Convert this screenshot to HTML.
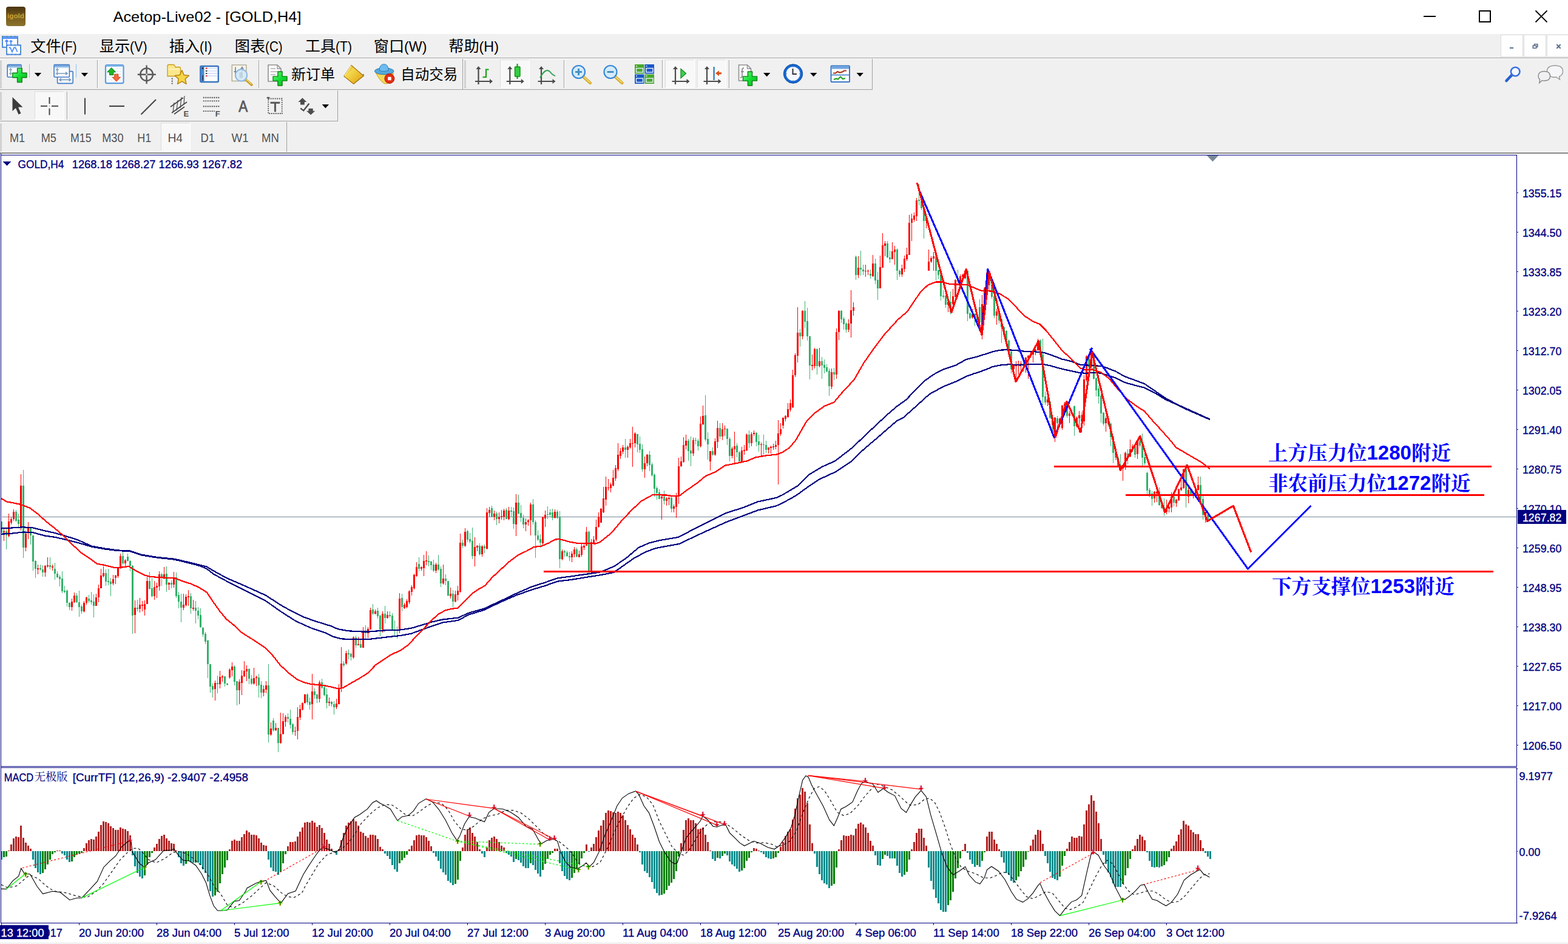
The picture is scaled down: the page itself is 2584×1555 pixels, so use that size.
<!DOCTYPE html><html><head><meta charset="utf-8"><title>Acetop-Live02 - [GOLD,H4]</title><style>html,body{margin:0;padding:0;background:#f0f0f0;overflow:hidden}body{width:2584px;height:1555px;position:relative;font-family:"Liberation Sans",sans-serif}svg{position:absolute;left:0;top:0;display:block}text{white-space:pre}</style></head><body><svg width="2584" height="1555" viewBox="0 0 2584 1555"><rect width="2584" height="1555" fill="#f0f0f0"/><g shape-rendering="crispEdges"><rect x="0" y="253" width="2584" height="1302" fill="#fff"/><rect x="3" y="851" width="2497" height="1" fill="#778899"/><path fill="#2DAE65" d="M1 859h3v19h-3zM9 875h3v7h-3zM25 843h3v15h-3zM29 856h3v7h-3zM37 800h3v102h-3zM49 869h3v13h-3zM53 882h3v43h-3zM57 924h3v13h-3zM65 936h3v2h-3zM69 938h3v5h-3zM81 931h3v3h-3zM89 937h3v8h-3zM93 945h3v6h-3zM97 950h3v4h-3zM101 953h3v21h-3zM105 973h3v2h-3zM109 973h3v20h-3zM113 993h3v7h-3zM125 981h3v11h-3zM129 992h3v8h-3zM133 999h3v8h-3zM145 986h3v4h-3zM149 989h3v3h-3zM153 991h3v7h-3zM173 944h3v14h-3zM177 957h3v2h-3zM181 958h3v4h-3zM201 916h3v12h-3zM209 917h3v7h-3zM213 924h3v8h-3zM217 932h3v82h-3zM225 1001h3v2h-3zM245 957h3v13h-3zM249 969h3v13h-3zM265 946h3v4h-3zM273 945h3v18h-3zM281 960h3v3h-3zM289 951h3v31h-3zM293 980h3v11h-3zM297 991h3v10h-3zM313 982h3v20h-3zM321 1001h3v5h-3zM325 1006h3v8h-3zM329 1013h3v20h-3zM333 1034h3v11h-3zM337 1044h3v13h-3zM341 1055h3v39h-3zM345 1094h3v37h-3zM349 1130h3v6h-3zM357 1125h3v2h-3zM369 1114h3v12h-3zM373 1126h3v2h-3zM385 1098h3v25h-3zM389 1122h3v15h-3zM409 1102h3v16h-3zM413 1118h3v8h-3zM425 1116h3v13h-3zM429 1128h3v13h-3zM441 1129h3v81h-3zM449 1187h3v16h-3zM457 1199h3v25h-3zM473 1181h3v3h-3zM477 1184h3v10h-3zM481 1193h3v13h-3zM505 1144h3v13h-3zM509 1156h3v5h-3zM517 1139h3v6h-3zM521 1144h3v7h-3zM529 1124h3v9h-3zM533 1132h3v13h-3zM537 1144h3v14h-3zM545 1156h3v4h-3zM549 1160h3v5h-3zM565 1093h3v3h-3zM573 1076h3v2h-3zM577 1077h3v5h-3zM585 1050h3v13h-3zM593 1061h3v6h-3zM601 1041h3v2h-3zM613 1004h3v7h-3zM621 1006h3v9h-3zM625 1014h3v23h-3zM633 1011h3v7h-3zM641 1013h3v2h-3zM645 1014h3v23h-3zM649 1037h3v1h-3zM653 1037h3v1h-3zM661 985h3v15h-3zM689 929h3v8h-3zM705 924h3v2h-3zM709 925h3v6h-3zM713 930h3v10h-3zM721 930h3v8h-3zM725 937h3v24h-3zM733 953h3v4h-3zM737 957h3v24h-3zM745 978h3v13h-3zM761 894h3v5h-3zM769 875h3v14h-3zM773 888h3v4h-3zM777 891h3v25h-3zM789 899h3v14h-3zM797 900h3v3h-3zM809 837h3v14h-3zM817 846h3v9h-3zM833 840h3v15h-3zM841 841h3v2h-3zM845 842h3v21h-3zM853 828h3v18h-3zM857 845h3v8h-3zM861 853h3v11h-3zM877 831h3v29h-3zM881 860h3v22h-3zM885 882h3v7h-3zM889 888h3v6h-3zM901 847h3v1h-3zM905 844h3v4h-3zM909 844h3v9h-3zM917 843h3v10h-3zM921 852h3v69h-3zM929 908h3v2h-3zM933 910h3v6h-3zM937 916h3v2h-3zM949 905h3v12h-3zM969 876h3v64h-3zM1029 737h3v4h-3zM1049 715h3v17h-3zM1053 731h3v10h-3zM1057 740h3v33h-3zM1069 749h3v17h-3zM1073 765h3v18h-3zM1077 782h3v23h-3zM1081 804h3v8h-3zM1085 811h3v11h-3zM1093 818h3v7h-3zM1105 820h3v18h-3zM1133 726h3v17h-3zM1137 742h3v5h-3zM1145 725h3v1h-3zM1149 726h3v9h-3zM1161 684h3v40h-3zM1165 723h3v9h-3zM1173 743h3v6h-3zM1185 705h3v14h-3zM1197 706h3v17h-3zM1201 723h3v28h-3zM1213 734h3v11h-3zM1217 745h3v15h-3zM1233 716h3v14h-3zM1245 713h3v15h-3zM1249 727h3v6h-3zM1257 732h3v1h-3zM1261 733h3v8h-3zM1317 548h3v6h-3zM1325 512h3v18h-3zM1329 529h3v25h-3zM1333 554h3v48h-3zM1345 575h3v28h-3zM1353 595h3v7h-3zM1357 601h3v5h-3zM1361 605h3v7h-3zM1365 611h3v25h-3zM1373 613h3v4h-3zM1385 512h3v14h-3zM1389 525h3v9h-3zM1393 533h3v10h-3zM1409 423h3v30h-3zM1417 441h3v3h-3zM1421 444h3v3h-3zM1433 451h3v3h-3zM1441 434h3v28h-3zM1445 461h3v14h-3zM1461 401h3v23h-3zM1465 424h3v3h-3zM1477 411h3v35h-3zM1481 446h3v6h-3zM1513 329h3v2h-3zM1517 331h3v12h-3zM1521 342h3v22h-3zM1541 422h3v24h-3zM1545 445h3v8h-3zM1549 452h3v36h-3zM1553 487h3v2h-3zM1557 487h3v15h-3zM1565 497h3v17h-3zM1577 461h3v3h-3zM1593 446h3v71h-3zM1597 516h3v8h-3zM1605 517h3v8h-3zM1609 520h3v9h-3zM1613 506h3v25h-3zM1629 449h3v21h-3zM1633 469h3v20h-3zM1637 488h3v32h-3zM1645 514h3v14h-3zM1649 526h3v13h-3zM1653 539h3v13h-3zM1657 545h3v16h-3zM1661 561h3v19h-3zM1665 579h3v29h-3zM1685 599h3v3h-3zM1713 561h3v24h-3zM1717 584h3v70h-3zM1721 653h3v10h-3zM1729 662h3v26h-3zM1733 687h3v13h-3zM1741 689h3v8h-3zM1757 667h3v18h-3zM1769 669h3v33h-3zM1781 684h3v10h-3zM1793 587h3v18h-3zM1801 583h3v41h-3zM1805 623h3v20h-3zM1809 640h3v13h-3zM1813 652h3v29h-3zM1817 680h3v18h-3zM1825 689h3v10h-3zM1829 698h3v22h-3zM1833 719h3v27h-3zM1837 745h3v9h-3zM1841 754h3v13h-3zM1845 766h3v6h-3zM1857 747h3v5h-3zM1869 735h3v14h-3zM1877 726h3v8h-3zM1881 733h3v21h-3zM1885 753h3v10h-3zM1889 779h3v29h-3zM1893 807h3v7h-3zM1897 813h3v9h-3zM1909 810h3v22h-3zM1913 831h3v6h-3zM1917 836h3v7h-3zM1933 818h3v10h-3zM1953 773h3v44h-3zM1961 807h3v7h-3zM1977 799h3v24h-3zM1981 822h3v26h-3zM1989 848h3v11h-3z"/><path fill="#3CB371" d="M2 859h1v19h-1zM10 869h1v36h-1zM26 840h1v20h-1zM30 846h1v23h-1zM38 774h1v145h-1zM50 869h1v28h-1zM54 882h1v58h-1zM58 923h1v29h-1zM66 930h1v10h-1zM70 931h1v19h-1zM82 918h1v20h-1zM90 927h1v28h-1zM94 941h1v11h-1zM98 947h1v19h-1zM102 941h1v36h-1zM106 965h1v12h-1zM110 971h1v28h-1zM114 992h1v13h-1zM126 977h1v16h-1zM130 973h1v43h-1zM134 996h1v15h-1zM146 980h1v13h-1zM150 975h1v21h-1zM154 979h1v38h-1zM174 938h1v27h-1zM178 937h1v27h-1zM182 952h1v30h-1zM202 909h1v21h-1zM210 912h1v13h-1zM214 923h1v18h-1zM218 931h1v113h-1zM226 988h1v19h-1zM246 942h1v29h-1zM250 952h1v32h-1zM266 944h1v21h-1zM274 933h1v42h-1zM282 956h1v13h-1zM290 943h1v42h-1zM294 975h1v27h-1zM298 978h1v47h-1zM314 977h1v34h-1zM322 990h1v37h-1zM326 1000h1v20h-1zM330 1002h1v32h-1zM334 1033h1v16h-1zM338 1041h1v20h-1zM342 1054h1v63h-1zM346 1094h1v47h-1zM350 1126h1v23h-1zM358 1113h1v29h-1zM370 1114h1v17h-1zM374 1125h1v4h-1zM386 1096h1v33h-1zM390 1122h1v40h-1zM410 1101h1v26h-1zM414 1112h1v16h-1zM426 1110h1v39h-1zM430 1122h1v28h-1zM442 1094h1v129h-1zM450 1183h1v22h-1zM458 1199h1v40h-1zM474 1175h1v15h-1zM478 1169h1v31h-1zM482 1191h1v19h-1zM506 1142h1v19h-1zM510 1149h1v20h-1zM518 1134h1v17h-1zM522 1143h1v15h-1zM530 1118h1v17h-1zM534 1129h1v18h-1zM538 1134h1v33h-1zM546 1155h1v9h-1zM550 1155h1v22h-1zM566 1089h1v10h-1zM574 1070h1v16h-1zM578 1075h1v13h-1zM586 1047h1v20h-1zM594 1054h1v13h-1zM602 1030h1v22h-1zM614 995h1v18h-1zM622 1001h1v18h-1zM626 1013h1v35h-1zM634 998h1v29h-1zM642 1007h1v11h-1zM646 1010h1v28h-1zM650 1022h1v27h-1zM654 1032h1v20h-1zM662 978h1v29h-1zM690 918h1v23h-1zM706 915h1v18h-1zM710 924h1v15h-1zM714 922h1v20h-1zM722 914h1v26h-1zM726 933h1v34h-1zM734 946h1v18h-1zM738 957h1v25h-1zM746 972h1v28h-1zM762 889h1v14h-1zM770 873h1v20h-1zM774 878h1v17h-1zM778 869h1v52h-1zM790 895h1v20h-1zM798 897h1v14h-1zM810 833h1v19h-1zM818 843h1v22h-1zM834 837h1v18h-1zM842 835h1v17h-1zM846 836h1v35h-1zM854 815h1v32h-1zM858 832h1v28h-1zM862 848h1v22h-1zM878 822h1v42h-1zM882 857h1v62h-1zM886 874h1v17h-1zM890 880h1v22h-1zM902 834h1v21h-1zM906 839h1v13h-1zM910 838h1v19h-1zM918 840h1v15h-1zM922 842h1v94h-1zM930 906h1v11h-1zM934 907h1v10h-1zM938 909h1v15h-1zM950 902h1v16h-1zM970 874h1v75h-1zM1030 723h1v31h-1zM1050 715h1v30h-1zM1054 719h1v27h-1zM1058 732h1v45h-1zM1070 743h1v33h-1zM1074 762h1v23h-1zM1078 780h1v38h-1zM1082 801h1v22h-1zM1086 806h1v16h-1zM1094 808h1v23h-1zM1106 818h1v26h-1zM1134 723h1v36h-1zM1138 719h1v49h-1zM1146 721h1v11h-1zM1150 723h1v19h-1zM1162 651h1v76h-1zM1166 712h1v45h-1zM1174 737h1v14h-1zM1186 697h1v26h-1zM1198 706h1v27h-1zM1202 720h1v40h-1zM1214 730h1v23h-1zM1218 743h1v18h-1zM1234 709h1v29h-1zM1246 712h1v23h-1zM1250 716h1v28h-1zM1258 716h1v33h-1zM1262 726h1v20h-1zM1318 542h1v29h-1zM1326 496h1v44h-1zM1330 507h1v54h-1zM1334 553h1v72h-1zM1346 574h1v43h-1zM1354 588h1v36h-1zM1358 592h1v23h-1zM1362 600h1v13h-1zM1366 607h1v45h-1zM1374 606h1v20h-1zM1386 511h1v21h-1zM1390 522h1v21h-1zM1394 531h1v17h-1zM1410 421h1v40h-1zM1418 413h1v41h-1zM1422 436h1v17h-1zM1434 444h1v15h-1zM1442 426h1v42h-1zM1446 448h1v46h-1zM1462 397h1v28h-1zM1466 413h1v20h-1zM1478 409h1v52h-1zM1482 444h1v12h-1zM1514 304h1v34h-1zM1518 317h1v29h-1zM1522 340h1v53h-1zM1542 417h1v45h-1zM1546 444h1v16h-1zM1550 451h1v44h-1zM1554 478h1v14h-1zM1558 486h1v21h-1zM1566 480h1v38h-1zM1578 444h1v22h-1zM1594 445h1v84h-1zM1598 514h1v12h-1zM1606 516h1v21h-1zM1610 518h1v13h-1zM1614 493h1v43h-1zM1630 446h1v32h-1zM1634 458h1v34h-1zM1638 487h1v37h-1zM1646 511h1v22h-1zM1650 525h1v40h-1zM1654 538h1v17h-1zM1658 544h1v19h-1zM1662 559h1v24h-1zM1666 578h1v37h-1zM1686 593h1v19h-1zM1714 559h1v30h-1zM1718 558h1v109h-1zM1722 645h1v22h-1zM1730 660h1v30h-1zM1734 686h1v23h-1zM1742 685h1v27h-1zM1758 665h1v23h-1zM1770 668h1v50h-1zM1782 679h1v18h-1zM1794 585h1v22h-1zM1802 582h1v43h-1zM1806 622h1v31h-1zM1810 636h1v29h-1zM1814 649h1v47h-1zM1818 679h1v22h-1zM1826 686h1v15h-1zM1830 696h1v39h-1zM1834 718h1v45h-1zM1838 744h1v14h-1zM1842 752h1v16h-1zM1846 748h1v28h-1zM1858 740h1v25h-1zM1870 731h1v23h-1zM1878 721h1v16h-1zM1882 714h1v53h-1zM1886 746h1v20h-1zM1890 777h1v37h-1zM1894 804h1v15h-1zM1898 809h1v24h-1zM1910 803h1v30h-1zM1914 830h1v8h-1zM1918 821h1v29h-1zM1934 817h1v17h-1zM1954 765h1v71h-1zM1962 806h1v10h-1zM1978 785h1v43h-1zM1982 817h1v39h-1zM1990 841h1v19h-1z"/><path fill="#FF0000" d="M6 869h1v22h-1zM5 875h3v2h-3zM14 846h1v39h-1zM13 859h3v24h-3zM18 852h1v12h-1zM17 855h3v6h-3zM22 839h1v19h-1zM21 843h3v12h-3zM34 781h1v93h-1zM33 800h3v67h-3zM42 874h1v34h-1zM41 879h3v23h-3zM46 860h1v28h-1zM45 869h3v9h-3zM62 930h1v16h-1zM61 936h3v2h-3zM74 931h1v19h-1zM73 932h3v11h-3zM78 918h1v17h-1zM77 931h3v2h-3zM86 930h1v10h-1zM85 933h3v2h-3zM118 986h1v20h-1zM117 991h3v9h-3zM122 976h1v17h-1zM121 981h3v11h-3zM138 990h1v19h-1zM137 993h3v14h-3zM142 983h1v13h-1zM141 984h3v9h-3zM158 978h1v20h-1zM157 984h3v14h-3zM162 963h1v29h-1zM161 969h3v15h-3zM166 937h1v32h-1zM165 948h3v21h-3zM170 933h1v18h-1zM169 944h3v5h-3zM186 947h1v17h-1zM185 954h3v7h-3zM190 947h1v15h-1zM189 948h3v4h-3zM194 934h1v18h-1zM193 935h3v14h-3zM198 912h1v25h-1zM197 916h3v20h-3zM206 921h1v12h-1zM205 923h3v5h-3zM222 989h1v54h-1zM221 1001h3v12h-3zM230 985h1v24h-1zM229 996h3v7h-3zM234 990h1v17h-1zM233 996h3v2h-3zM238 989h1v25h-1zM237 995h3v9h-3zM242 948h1v47h-1zM241 957h3v38h-3zM254 957h1v31h-1zM253 967h3v15h-3zM258 960h1v25h-1zM257 965h3v3h-3zM262 941h1v32h-1zM261 946h3v20h-3zM270 934h1v20h-1zM269 946h3v5h-3zM278 959h1v13h-1zM277 960h3v3h-3zM286 942h1v26h-1zM285 951h3v12h-3zM302 978h1v27h-1zM301 996h3v5h-3zM306 979h1v20h-1zM305 983h3v14h-3zM310 972h1v26h-1zM309 982h3v2h-3zM318 988h1v18h-1zM317 1001h3v2h-3zM354 1121h1v33h-1zM353 1125h3v10h-3zM362 1105h1v29h-1zM361 1115h3v12h-3zM366 1112h1v11h-1zM365 1114h3v2h-3zM378 1101h1v17h-1zM377 1103h3v13h-3zM382 1091h1v23h-1zM381 1098h3v6h-3zM394 1119h1v41h-1zM393 1123h3v14h-3zM398 1104h1v41h-1zM397 1113h3v12h-3zM402 1089h1v26h-1zM401 1105h3v9h-3zM406 1096h1v26h-1zM405 1102h3v4h-3zM418 1100h1v28h-1zM417 1117h3v9h-3zM422 1113h1v17h-1zM421 1115h3v2h-3zM434 1129h1v18h-1zM433 1135h3v6h-3zM438 1122h1v20h-1zM437 1129h3v7h-3zM446 1190h1v22h-1zM445 1200h3v10h-3zM454 1191h1v13h-1zM453 1199h3v4h-3zM462 1174h1v51h-1zM461 1209h3v15h-3zM466 1175h1v35h-1zM465 1188h3v21h-3zM470 1178h1v19h-1zM469 1181h3v8h-3zM486 1197h1v15h-1zM485 1204h3v1h-3zM490 1165h1v53h-1zM489 1181h3v23h-3zM494 1161h1v25h-1zM493 1168h3v14h-3zM498 1157h1v13h-1zM497 1158h3v11h-3zM502 1143h1v16h-1zM501 1144h3v14h-3zM514 1110h1v75h-1zM513 1139h3v21h-3zM526 1121h1v36h-1zM525 1124h3v27h-3zM542 1149h1v14h-1zM541 1156h3v2h-3zM554 1151h1v17h-1zM553 1159h3v6h-3zM558 1127h1v33h-1zM557 1133h3v27h-3zM562 1066h1v74h-1zM561 1093h3v41h-3zM570 1072h1v23h-1zM569 1076h3v17h-3zM582 1048h1v37h-1zM581 1050h3v33h-3zM590 1049h1v14h-1zM589 1061h3v2h-3zM598 1033h1v34h-1zM597 1041h3v26h-3zM606 1033h1v18h-1zM605 1036h3v7h-3zM610 1001h1v36h-1zM609 1005h3v32h-3zM618 1004h1v8h-1zM617 1007h3v4h-3zM630 1007h1v35h-1zM629 1011h3v26h-3zM638 1007h1v12h-1zM637 1013h3v5h-3zM658 977h1v66h-1zM657 986h3v52h-3zM666 993h1v10h-1zM665 996h3v6h-3zM670 987h1v15h-1zM669 990h3v10h-3zM674 972h1v23h-1zM673 974h3v18h-3zM678 964h1v17h-1zM677 967h3v8h-3zM682 945h1v26h-1zM681 947h3v22h-3zM686 926h1v24h-1zM685 934h3v15h-3zM694 933h1v7h-1zM693 934h3v3h-3zM698 914h1v35h-1zM697 924h3v12h-3zM702 908h1v23h-1zM701 923h3v2h-3zM718 927h1v17h-1zM717 930h3v10h-3zM730 930h1v33h-1zM729 953h3v8h-3zM742 968h1v18h-1zM741 978h3v4h-3zM750 973h1v19h-1zM749 979h3v12h-3zM754 965h1v24h-1zM753 973h3v7h-3zM758 879h1v97h-1zM757 894h3v81h-3zM766 870h1v31h-1zM765 876h3v23h-3zM782 885h1v48h-1zM781 901h3v15h-3zM786 898h1v10h-1zM785 899h3v3h-3zM794 898h1v19h-1zM793 900h3v13h-3zM802 837h1v68h-1zM801 844h3v60h-3zM806 835h1v16h-1zM805 840h3v5h-3zM814 841h1v16h-1zM813 846h3v5h-3zM822 844h1v18h-1zM821 852h3v3h-3zM826 840h1v16h-1zM825 850h3v2h-3zM830 838h1v19h-1zM829 841h3v10h-3zM838 835h1v22h-1zM837 841h3v14h-3zM850 814h1v69h-1zM849 828h3v36h-3zM866 854h1v21h-1zM865 860h3v4h-3zM870 855h1v11h-1zM869 857h3v3h-3zM874 828h1v54h-1zM873 831h3v26h-3zM894 851h1v46h-1zM893 852h3v43h-3zM898 841h1v27h-1zM897 848h3v6h-3zM914 839h1v15h-1zM913 843h3v10h-3zM926 905h1v18h-1zM925 908h3v13h-3zM942 908h1v18h-1zM941 912h3v6h-3zM946 901h1v17h-1zM945 905h3v8h-3zM954 907h1v11h-1zM953 913h3v5h-3zM958 896h1v21h-1zM957 900h3v14h-3zM962 896h1v10h-1zM961 899h3v3h-3zM966 868h1v31h-1zM965 876h3v23h-3zM974 888h1v53h-1zM973 893h3v48h-3zM978 883h1v14h-1zM977 889h3v5h-3zM982 856h1v36h-1zM981 868h3v21h-3zM986 844h1v25h-1zM985 852h3v16h-3zM990 837h1v24h-1zM989 838h3v23h-3zM994 802h1v43h-1zM993 821h3v23h-3zM998 785h1v48h-1zM997 802h3v21h-3zM1002 789h1v19h-1zM1001 803h3v1h-3zM1006 795h1v16h-1zM1005 798h3v6h-3zM1010 774h1v27h-1zM1009 787h3v13h-3zM1014 766h1v26h-1zM1013 771h3v17h-3zM1018 730h1v46h-1zM1017 749h3v24h-3zM1022 738h1v18h-1zM1021 743h3v8h-3zM1026 733h1v15h-1zM1025 737h3v7h-3zM1034 734h1v20h-1zM1033 736h3v5h-3zM1038 723h1v16h-1zM1037 730h3v7h-3zM1042 703h1v66h-1zM1041 730h3v1h-3zM1046 712h1v25h-1zM1045 714h3v16h-3zM1062 752h1v35h-1zM1061 763h3v10h-3zM1066 748h1v20h-1zM1065 749h3v14h-3zM1090 815h1v41h-1zM1089 818h3v3h-3zM1098 819h1v14h-1zM1097 821h3v4h-3zM1102 815h1v17h-1zM1101 820h3v2h-3zM1110 831h1v13h-1zM1109 834h3v4h-3zM1114 812h1v41h-1zM1113 817h3v18h-3zM1118 754h1v76h-1zM1117 768h3v50h-3zM1122 752h1v17h-1zM1121 760h3v8h-3zM1126 720h1v42h-1zM1125 733h3v28h-3zM1130 716h1v24h-1zM1129 726h3v8h-3zM1142 721h1v30h-1zM1141 725h3v22h-3zM1154 686h1v51h-1zM1153 698h3v37h-3zM1158 668h1v32h-1zM1157 685h3v14h-3zM1170 743h1v32h-1zM1169 743h3v17h-3zM1178 722h1v29h-1zM1177 727h3v22h-3zM1182 693h1v45h-1zM1181 705h3v23h-3zM1190 697h1v28h-1zM1189 707h3v12h-3zM1194 701h1v17h-1zM1193 706h3v1h-3zM1206 736h1v19h-1zM1205 739h3v12h-3zM1210 711h1v53h-1zM1209 735h3v5h-3zM1222 736h1v25h-1zM1221 742h3v18h-3zM1226 733h1v16h-1zM1225 741h3v2h-3zM1230 714h1v29h-1zM1229 716h3v26h-3zM1238 712h1v23h-1zM1237 715h3v15h-3zM1242 709h1v9h-1zM1241 713h3v2h-3zM1254 729h1v22h-1zM1253 732h3v1h-3zM1266 737h1v10h-1zM1265 737h3v4h-3zM1270 734h1v13h-1zM1269 736h3v2h-3zM1274 731h1v10h-1zM1273 735h3v2h-3zM1278 726h1v14h-1zM1277 733h3v3h-3zM1282 692h1v106h-1zM1281 714h3v19h-3zM1286 697h1v21h-1zM1285 707h3v8h-3zM1290 688h1v18h-1zM1289 688h3v13h-3zM1294 684h1v10h-1zM1293 685h3v5h-3zM1298 664h1v24h-1zM1297 674h3v13h-3zM1302 658h1v20h-1zM1301 664h3v11h-3zM1306 609h1v63h-1zM1305 618h3v53h-3zM1310 582h1v39h-1zM1309 585h3v33h-3zM1314 506h1v91h-1zM1313 548h3v38h-3zM1322 511h1v48h-1zM1321 512h3v42h-3zM1338 584h1v26h-1zM1337 601h3v2h-3zM1342 573h1v34h-1zM1341 575h3v28h-3zM1350 573h1v32h-1zM1349 595h3v8h-3zM1370 607h1v34h-1zM1369 613h3v24h-3zM1378 541h1v83h-1zM1377 547h3v70h-3zM1382 511h1v49h-1zM1381 512h3v35h-3zM1398 526h1v21h-1zM1397 533h3v10h-3zM1402 478h1v78h-1zM1401 511h3v22h-3zM1406 498h1v22h-1zM1405 506h3v6h-3zM1414 422h1v36h-1zM1413 441h3v12h-3zM1426 436h1v20h-1zM1425 446h3v1h-3zM1430 444h1v9h-1zM1429 446h3v1h-3zM1438 420h1v36h-1zM1437 434h3v21h-3zM1450 421h1v54h-1zM1449 440h3v35h-3zM1454 384h1v57h-1zM1453 404h3v37h-3zM1458 397h1v25h-1zM1457 401h3v4h-3zM1470 399h1v28h-1zM1469 414h3v13h-3zM1474 405h1v31h-1zM1473 411h3v4h-3zM1486 436h1v20h-1zM1485 442h3v10h-3zM1490 421h1v27h-1zM1489 426h3v17h-3zM1494 408h1v22h-1zM1493 419h3v8h-3zM1498 354h1v66h-1zM1497 367h3v53h-3zM1502 352h1v45h-1zM1501 360h3v7h-3zM1506 350h1v15h-1zM1505 355h3v7h-3zM1510 326h1v38h-1zM1509 330h3v26h-3zM1526 356h1v20h-1zM1525 358h3v6h-3zM1530 411h1v35h-1zM1529 431h3v15h-3zM1534 422h1v11h-1zM1533 425h3v6h-3zM1538 415h1v31h-1zM1537 422h3v4h-3zM1562 495h1v19h-1zM1561 497h3v5h-3zM1570 476h1v27h-1zM1569 488h3v13h-3zM1574 460h1v30h-1zM1573 461h3v28h-3zM1582 452h1v16h-1zM1581 455h3v9h-3zM1586 451h1v7h-1zM1585 453h3v3h-3zM1590 445h1v15h-1zM1589 446h3v12h-3zM1602 509h1v16h-1zM1601 517h3v6h-3zM1618 486h1v73h-1zM1617 501h3v50h-3zM1622 473h1v29h-1zM1621 475h3v26h-3zM1626 447h1v29h-1zM1625 449h3v26h-3zM1642 509h1v26h-1zM1641 513h3v7h-3zM1670 600h1v11h-1zM1669 602h3v6h-3zM1674 595h1v35h-1zM1673 601h3v2h-3zM1678 594h1v23h-1zM1677 600h3v2h-3zM1682 595h1v18h-1zM1681 599h3v2h-3zM1690 588h1v26h-1zM1689 589h3v12h-3zM1694 585h1v39h-1zM1693 586h3v4h-3zM1698 580h1v9h-1zM1697 583h3v4h-3zM1702 576h1v21h-1zM1701 578h3v6h-3zM1706 575h1v10h-1zM1705 576h3v3h-3zM1710 558h1v20h-1zM1709 561h3v16h-3zM1726 656h1v13h-1zM1725 658h3v5h-3zM1738 687h1v41h-1zM1737 688h3v30h-3zM1746 688h1v11h-1zM1745 690h3v7h-3zM1750 667h1v41h-1zM1749 668h3v37h-3zM1754 662h1v9h-1zM1753 665h3v4h-3zM1762 677h1v20h-1zM1761 681h3v4h-3zM1766 676h1v8h-1zM1765 680h3v2h-3zM1774 686h1v18h-1zM1773 688h3v14h-3zM1778 677h1v35h-1zM1777 684h3v5h-3zM1786 618h1v83h-1zM1785 625h3v69h-3zM1790 585h1v43h-1zM1789 587h3v39h-3zM1798 578h1v28h-1zM1797 580h3v24h-3zM1822 686h1v25h-1zM1821 689h3v8h-3zM1850 765h1v27h-1zM1849 767h3v5h-3zM1854 744h1v30h-1zM1853 746h3v23h-3zM1862 724h1v29h-1zM1861 740h3v12h-3zM1866 732h1v12h-1zM1865 735h3v6h-3zM1874 725h1v31h-1zM1873 726h3v22h-3zM1902 809h1v19h-1zM1901 810h3v11h-3zM1906 803h1v24h-1zM1905 810h3v3h-3zM1922 823h1v24h-1zM1921 837h3v6h-3zM1926 833h1v11h-1zM1925 835h3v3h-3zM1930 811h1v33h-1zM1929 818h3v18h-3zM1938 822h1v13h-1zM1937 823h3v6h-3zM1942 805h1v20h-1zM1941 806h3v18h-3zM1946 790h1v19h-1zM1945 803h3v4h-3zM1950 772h1v33h-1zM1949 773h3v31h-3zM1958 801h1v28h-1zM1957 807h3v11h-3zM1966 810h1v11h-1zM1965 811h3v3h-3zM1970 803h1v12h-1zM1969 804h3v9h-3zM1974 785h1v23h-1zM1973 799h3v8h-3zM1986 843h1v18h-1zM1985 844h3v6h-3z"/><polyline fill="none" stroke="#000080" stroke-width="2.2" stroke-linejoin="round" points="1.7,870.5 21.6,869.4 37.7,868.3 53.9,869.4 73.3,874.2 90.6,878 107.8,882.8 129.4,889.9 151,899.6 172.5,903.5 194.1,906.5 213.5,907.2 232.9,913.6 258.8,917.9 286.9,920.7 308.4,925.5 328.9,930.5 340.8,933.6 351.6,940.1 373.1,952 405.5,966 437.8,980.6 463.7,997.3 481,1007 502.5,1017.3 524.1,1024.6 545.7,1031.3 556.5,1036.1 573.7,1039.3 595.3,1040.4 610.4,1040.4 632,1038.5 658.9,1037.6 677.3,1034.9 694.5,1029.9 711.8,1024.5 729,1020.6 754.9,1017.6 772.2,1009.8 798,1002.5 823.9,990.4 849.8,978.1 875.7,966.7 897.3,959.8 918.8,952.3 940.4,949.5 962,946.4 988.9,942.5 1011.6,933.2 1031,920.1 1052.5,902 1069.8,894.4 1087.1,890.1 1117.3,885.1 1147.5,869.6 1173.3,856.7 1197.1,844.8 1222.9,836.8 1248.8,826.5 1279,820 1288.7,815.7 1314.8,800.1 1333.1,782 1354.7,769 1376.3,759.3 1404.3,737.7 1432.4,710.8 1462.5,682.7 1477.6,669.8 1492.7,659 1522.9,627.7 1540.2,615.9 1555.3,608.3 1574.7,601.9 1592,592.2 1609.2,587.8 1622.9,583.6 1635.9,579.3 1648.8,576.7 1659.6,576.1 1674.7,577.2 1689.8,578.9 1704.9,579.3 1720,580.8 1735.1,585.8 1750.2,591.6 1765.3,595.1 1780.4,600.9 1799.8,602 1814.9,603 1825.7,606.7 1838.6,611.7 1853.7,620.3 1868.8,625.7 1886.1,632.2 1903.3,644 1920.6,655.9 1940,666.2 1951,671.3 1994.1,690.7"/><polyline fill="none" stroke="#000080" stroke-width="2.2" stroke-linejoin="round" points="1.7,879.8 21.6,878.5 37.7,876.5 53.9,877 73.3,882.4 90.6,884.9 107.8,888.8 129.4,894.2 151,900.7 172.5,904.4 194.1,907.2 213.5,907.8 232.9,914.3 258.8,918.6 286.9,921.6 308.4,926.6 328.9,932 340.8,936.9 351.6,945.5 379.6,960.6 405.5,973.5 437.8,989.7 463.7,1008 487.5,1023.1 511.2,1033.9 534.9,1041.9 550,1049 562.9,1052.3 578,1053.3 610.4,1052.7 632,1050.1 658.9,1047.1 677.3,1043.9 694.5,1037.5 711.8,1031.4 729,1025.6 754.9,1021.9 772.2,1012.6 798,1004.7 823.9,992.2 849.8,980.9 875.7,971.7 897.3,965.2 918.8,957.6 940.4,955.1 962,951.6 988.9,947.3 1011.6,942.9 1043.9,920.1 1063.3,909.5 1080.6,903 1097.8,899.8 1119.4,895.9 1147.5,882.5 1173.3,870.7 1197.1,859.9 1222.9,850.2 1248.8,840.5 1279,833.4 1288.7,829.1 1311.6,816.5 1334.2,800.1 1350.4,789.5 1378.4,776.6 1402.2,760.4 1423.7,739.9 1445.3,721.6 1477.6,693.5 1488.4,688.1 1507.8,670.9 1531.6,649.3 1555.3,636.4 1574.7,628.8 1592,620.2 1604.9,615.5 1609.2,614.2 1622.9,609.5 1635.9,604.1 1648.8,601.5 1663.9,600.2 1681.2,601.5 1700.6,599.8 1717.8,599.8 1730.8,602.4 1745.9,606.7 1761,610.2 1778.2,613.8 1789,614.9 1802,613.8 1812.7,614.5 1825.7,618.1 1838.6,622.5 1853.7,630 1868.8,634.3 1886.1,638.6 1903.3,647.3 1920.6,658 1940,666.7 1951,672.4 1994.1,691.3"/><polyline fill="none" stroke="#FF0000" stroke-width="2.2" stroke-linejoin="round" points="1.7,820.9 10.8,826.3 21.6,828.4 34.5,831 49.6,837.1 62.5,846.8 75.5,858.6 90.6,870.5 105.7,883.4 120.8,898.5 133.7,910.4 146.7,919 159.6,928.7 172.5,930.9 187.6,934.8 198.4,934.8 212.5,933 224.3,940.6 237.3,947.1 245.9,949.6 258.8,950.9 289,952.5 302,957.8 314.9,961.7 328.9,968.2 340.8,975.7 351.6,991.9 362.4,1007 373.1,1019.9 383.9,1028.5 399,1042.5 416.3,1053.3 437.8,1067.4 450.8,1081.4 461.6,1095.4 476.7,1109.4 489.6,1119.1 500.4,1123.9 513.3,1127.1 532.7,1128.8 545.7,1131.6 556.5,1134.2 565.1,1133.1 578,1125.6 593.1,1117 606.1,1108.8 619,1095.4 632,1086.8 644.9,1078.1 658.9,1072.1 672.9,1062.3 685.9,1048.2 698.8,1034.9 711.8,1021.3 722.5,1011.6 734.4,1005.1 746.3,1002.5 753.8,1001.9 765.7,990 777.5,978.1 789.4,970.2 799.1,964.8 811,951.2 823.9,939.3 839,925.3 854.1,914.1 867.1,908 880,900.9 891.9,899.8 903.7,894.7 915.6,888.6 922.1,888 938.2,892.5 953.3,895.1 968.4,895.1 981.4,895.5 988.9,892.9 1007.3,878.2 1024.5,857.7 1041.8,839.4 1056.9,825.4 1075.2,815.3 1087.1,815.3 1102.2,815.7 1107.5,817.4 1119.4,816.8 1132.4,807.1 1149.6,795.2 1162.5,784.4 1179.8,776.9 1194.9,766.7 1210,763.9 1231.6,759.2 1244.5,753.6 1261.8,750.5 1281.2,748.4 1289.8,744.9 1300.8,737.7 1311.6,724.8 1328.8,694.6 1343.9,679.5 1359,668.7 1374.1,662.9 1389.2,645 1407.5,625.6 1423.7,597.5 1441,572.7 1458.2,550.1 1479.8,526.4 1494.9,513.4 1516.5,481.7 1529.2,469.4 1542.2,464.5 1552.9,464.5 1565.9,468.3 1593.9,468.8 1606.9,474.8 1617.6,479.1 1633.7,479.5 1648.8,484.4 1661.8,493 1674.7,506 1687.6,520 1702.7,529.7 1713.5,534 1724.3,544.8 1737.3,561 1750.2,577.2 1765.3,591.2 1780.4,606.3 1789,609.5 1799.8,608.4 1814.9,613.8 1827.8,623.5 1842.9,641.9 1858,658 1871,667.7 1886.1,677.5 1899,692.5 1912,706.6 1929.2,726 1938,737.1 1951,744.6 1963.9,752.2 1979,760.8 1994.1,772.6"/><rect x="1737" y="767" width="720.5" height="3" fill="#FF0000"/><rect x="1855" y="814" width="590.6" height="3" fill="#FF0000"/><rect x="895.5" y="940" width="1565.5" height="3" fill="#FF0000"/><polyline fill="none" stroke="#0000FF" stroke-width="3" stroke-linejoin="round" points="1514,312 1617.7,549.5 1627.8,443.4 1737.3,720.6 1799.8,572.9"/><polyline fill="none" stroke="#0000FF" stroke-width="3" stroke-linejoin="round" points="1796.3,574.5 2056.5,937.2 2160.3,832.9"/><polyline fill="none" stroke="#FF0000" stroke-width="3.1" stroke-linejoin="round" points="1511.5,301.2 1568,514.7 1592.2,443.5 1618,551.8 1630.5,447.8 1674,629 1711.4,562 1739.4,719.5 1757.8,661.3 1781,712 1799.8,580.4 1846.4,774.8 1878.7,718.7 1919.7,843.8 1956.4,766.2 1989.6,858.5 2032.4,833.2 2061.7,909.7"/><path fill="#B22222" d="M13 1401h3v1h-3zM17 1391h3v11h-3zM21 1381h3v21h-3zM25 1378h3v24h-3zM29 1379h3v23h-3zM33 1360h3v42h-3zM37 1380h3v22h-3zM41 1388h3v14h-3zM45 1393h3v9h-3zM49 1398h3v4h-3zM93 1401h3v1h-3zM97 1401h3v1h-3zM137 1397h3v5h-3zM141 1389h3v13h-3zM145 1384h3v18h-3zM149 1382h3v20h-3zM153 1383h3v19h-3zM157 1378h3v24h-3zM161 1370h3v32h-3zM165 1359h3v43h-3zM169 1353h3v49h-3zM173 1354h3v48h-3zM177 1356h3v46h-3zM181 1361h3v41h-3zM185 1364h3v38h-3zM189 1367h3v35h-3zM193 1367h3v35h-3zM197 1363h3v39h-3zM201 1365h3v37h-3zM205 1366h3v36h-3zM209 1369h3v33h-3zM213 1376h3v26h-3zM253 1396h3v6h-3zM257 1390h3v12h-3zM261 1382h3v20h-3zM265 1377h3v25h-3zM269 1375h3v27h-3zM273 1381h3v21h-3zM277 1385h3v17h-3zM281 1389h3v13h-3zM285 1390h3v12h-3zM289 1401h3v1h-3zM377 1399h3v3h-3zM381 1385h3v17h-3zM385 1383h3v19h-3zM389 1385h3v17h-3zM393 1385h3v17h-3zM397 1379h3v23h-3zM401 1374h3v28h-3zM405 1368h3v34h-3zM409 1371h3v31h-3zM413 1375h3v27h-3zM417 1375h3v27h-3zM421 1376h3v26h-3zM425 1381h3v21h-3zM429 1388h3v14h-3zM433 1392h3v10h-3zM437 1393h3v9h-3zM473 1394h3v8h-3zM477 1387h3v15h-3zM481 1387h3v15h-3zM485 1386h3v16h-3zM489 1378h3v24h-3zM493 1370h3v32h-3zM497 1363h3v39h-3zM501 1355h3v47h-3zM505 1354h3v48h-3zM509 1355h3v47h-3zM513 1352h3v50h-3zM517 1355h3v47h-3zM521 1362h3v40h-3zM525 1359h3v43h-3zM529 1364h3v38h-3zM533 1372h3v30h-3zM537 1383h3v19h-3zM541 1390h3v12h-3zM545 1398h3v4h-3zM557 1399h3v3h-3zM561 1384h3v18h-3zM565 1372h3v30h-3zM569 1360h3v42h-3zM573 1355h3v47h-3zM577 1353h3v49h-3zM581 1349h3v53h-3zM585 1353h3v49h-3zM589 1360h3v42h-3zM593 1370h3v32h-3zM597 1372h3v30h-3zM601 1377h3v25h-3zM605 1380h3v22h-3zM609 1375h3v27h-3zM613 1375h3v27h-3zM617 1376h3v26h-3zM621 1382h3v20h-3zM625 1395h3v7h-3zM629 1399h3v3h-3zM673 1399h3v3h-3zM677 1393h3v9h-3zM681 1384h3v18h-3zM685 1376h3v26h-3zM689 1375h3v27h-3zM693 1376h3v26h-3zM697 1376h3v26h-3zM701 1379h3v23h-3zM705 1385h3v17h-3zM709 1394h3v8h-3zM761 1396h3v6h-3zM765 1375h3v27h-3zM769 1366h3v36h-3zM773 1363h3v39h-3zM777 1372h3v30h-3zM781 1378h3v24h-3zM785 1387h3v15h-3zM789 1399h3v3h-3zM801 1396h3v6h-3zM805 1384h3v18h-3zM809 1380h3v22h-3zM813 1378h3v24h-3zM817 1382h3v20h-3zM821 1387h3v15h-3zM825 1393h3v9h-3zM829 1396h3v6h-3zM913 1398h3v4h-3zM917 1398h3v4h-3zM965 1391h3v11h-3zM973 1396h3v6h-3zM977 1390h3v12h-3zM981 1379h3v23h-3zM985 1368h3v34h-3zM989 1360h3v42h-3zM993 1351h3v51h-3zM997 1339h3v63h-3zM1001 1335h3v67h-3zM1005 1336h3v66h-3zM1009 1338h3v64h-3zM1013 1339h3v63h-3zM1017 1337h3v65h-3zM1021 1339h3v63h-3zM1025 1343h3v59h-3zM1029 1351h3v51h-3zM1033 1359h3v43h-3zM1037 1366h3v36h-3zM1041 1375h3v27h-3zM1045 1380h3v22h-3zM1049 1391h3v11h-3zM1121 1389h3v13h-3zM1125 1367h3v35h-3zM1129 1351h3v51h-3zM1133 1348h3v54h-3zM1137 1351h3v51h-3zM1141 1351h3v51h-3zM1145 1356h3v46h-3zM1149 1366h3v36h-3zM1153 1365h3v37h-3zM1157 1363h3v39h-3zM1161 1375h3v27h-3zM1165 1387h3v15h-3zM1169 1401h3v1h-3zM1241 1397h3v5h-3zM1245 1398h3v4h-3zM1249 1401h3v1h-3zM1285 1395h3v7h-3zM1289 1387h3v15h-3zM1293 1377h3v25h-3zM1297 1370h3v32h-3zM1301 1366h3v36h-3zM1305 1350h3v52h-3zM1309 1332h3v70h-3zM1313 1315h3v87h-3zM1317 1309h3v93h-3zM1321 1298h3v104h-3zM1325 1304h3v98h-3zM1329 1323h3v79h-3zM1333 1358h3v44h-3zM1337 1389h3v13h-3zM1381 1399h3v3h-3zM1385 1384h3v18h-3zM1389 1376h3v26h-3zM1393 1377h3v25h-3zM1397 1377h3v25h-3zM1401 1375h3v27h-3zM1405 1376h3v26h-3zM1409 1365h3v37h-3zM1413 1357h3v45h-3zM1417 1355h3v47h-3zM1421 1358h3v44h-3zM1425 1363h3v39h-3zM1429 1372h3v30h-3zM1433 1385h3v17h-3zM1437 1393h3v9h-3zM1501 1399h3v3h-3zM1505 1387h3v15h-3zM1509 1372h3v30h-3zM1513 1365h3v37h-3zM1517 1365h3v37h-3zM1521 1380h3v22h-3zM1525 1393h3v9h-3zM1585 1400h3v2h-3zM1589 1390h3v12h-3zM1625 1378h3v24h-3zM1629 1370h3v32h-3zM1633 1370h3v32h-3zM1637 1383h3v19h-3zM1641 1390h3v12h-3zM1645 1399h3v3h-3zM1697 1393h3v9h-3zM1701 1383h3v19h-3zM1705 1375h3v27h-3zM1709 1367h3v35h-3zM1713 1368h3v34h-3zM1717 1390h3v12h-3zM1757 1398h3v4h-3zM1761 1387h3v15h-3zM1765 1378h3v24h-3zM1769 1380h3v22h-3zM1773 1380h3v22h-3zM1777 1377h3v25h-3zM1781 1378h3v24h-3zM1785 1358h3v44h-3zM1789 1335h3v67h-3zM1793 1325h3v77h-3zM1797 1310h3v92h-3zM1801 1319h3v83h-3zM1805 1337h3v65h-3zM1809 1356h3v46h-3zM1813 1382h3v20h-3zM1865 1399h3v3h-3zM1869 1393h3v9h-3zM1873 1382h3v20h-3zM1877 1375h3v27h-3zM1881 1378h3v24h-3zM1885 1384h3v18h-3zM1929 1398h3v4h-3zM1933 1393h3v9h-3zM1937 1386h3v16h-3zM1941 1375h3v27h-3zM1945 1366h3v36h-3zM1949 1352h3v50h-3zM1953 1358h3v44h-3zM1957 1360h3v42h-3zM1961 1367h3v35h-3zM1965 1371h3v31h-3zM1969 1374h3v28h-3zM1973 1374h3v28h-3zM1977 1384h3v18h-3zM1981 1397h3v5h-3z"/><path fill="#008B8B" d="M1 1402h3v14h-3zM53 1402h3v14h-3zM57 1402h3v28h-3zM61 1402h3v35h-3zM65 1402h3v38h-3zM101 1402h3v4h-3zM105 1402h3v7h-3zM109 1402h3v14h-3zM113 1402h3v18h-3zM217 1402h3v7h-3zM221 1402h3v25h-3zM225 1402h3v36h-3zM229 1402h3v42h-3zM233 1402h3v45h-3zM293 1402h3v10h-3zM297 1402h3v20h-3zM301 1402h3v24h-3zM313 1402h3v18h-3zM317 1402h3v19h-3zM325 1402h3v19h-3zM329 1402h3v23h-3zM333 1402h3v30h-3zM337 1402h3v36h-3zM341 1402h3v50h-3zM345 1402h3v66h-3zM349 1402h3v75h-3zM441 1402h3v14h-3zM445 1402h3v27h-3zM449 1402h3v33h-3zM453 1402h3v34h-3zM457 1402h3v39h-3zM549 1402h3v1h-3zM553 1402h3v6h-3zM633 1402h3v4h-3zM637 1402h3v8h-3zM641 1402h3v13h-3zM645 1402h3v23h-3zM649 1402h3v30h-3zM653 1402h3v34h-3zM713 1402h3v3h-3zM717 1402h3v9h-3zM721 1402h3v16h-3zM725 1402h3v29h-3zM729 1402h3v35h-3zM733 1402h3v39h-3zM737 1402h3v49h-3zM741 1402h3v52h-3zM745 1402h3v56h-3zM793 1402h3v4h-3zM797 1402h3v10h-3zM833 1402h3v3h-3zM837 1402h3v6h-3zM841 1402h3v9h-3zM845 1402h3v18h-3zM853 1402h3v15h-3zM857 1402h3v19h-3zM861 1402h3v25h-3zM865 1402h3v28h-3zM869 1402h3v28h-3zM877 1402h3v23h-3zM881 1402h3v31h-3zM885 1402h3v37h-3zM889 1402h3v42h-3zM921 1402h3v20h-3zM925 1402h3v33h-3zM929 1402h3v41h-3zM933 1402h3v46h-3zM937 1402h3v48h-3zM969 1402h3v1h-3zM1053 1402h3v2h-3zM1057 1402h3v22h-3zM1061 1402h3v33h-3zM1065 1402h3v36h-3zM1069 1402h3v43h-3zM1073 1402h3v51h-3zM1077 1402h3v62h-3zM1081 1402h3v69h-3zM1085 1402h3v73h-3zM1173 1402h3v13h-3zM1177 1402h3v16h-3zM1185 1402h3v12h-3zM1197 1402h3v7h-3zM1201 1402h3v17h-3zM1205 1402h3v22h-3zM1209 1402h3v25h-3zM1213 1402h3v29h-3zM1217 1402h3v34h-3zM1253 1402h3v2h-3zM1257 1402h3v5h-3zM1261 1402h3v10h-3zM1265 1402h3v12h-3zM1269 1402h3v13h-3zM1341 1402h3v4h-3zM1345 1402h3v26h-3zM1349 1402h3v38h-3zM1353 1402h3v48h-3zM1357 1402h3v53h-3zM1361 1402h3v55h-3zM1365 1402h3v61h-3zM1441 1402h3v7h-3zM1445 1402h3v23h-3zM1449 1402h3v24h-3zM1461 1402h3v8h-3zM1465 1402h3v12h-3zM1469 1402h3v12h-3zM1477 1402h3v24h-3zM1481 1402h3v36h-3zM1485 1402h3v42h-3zM1529 1402h3v27h-3zM1533 1402h3v49h-3zM1537 1402h3v63h-3zM1541 1402h3v77h-3zM1545 1402h3v86h-3zM1549 1402h3v97h-3zM1553 1402h3v100h-3zM1557 1402h3v100h-3zM1593 1402h3v3h-3zM1597 1402h3v14h-3zM1601 1402h3v21h-3zM1605 1402h3v26h-3zM1613 1402h3v26h-3zM1649 1402h3v10h-3zM1653 1402h3v19h-3zM1657 1402h3v36h-3zM1661 1402h3v39h-3zM1665 1402h3v49h-3zM1669 1402h3v52h-3zM1721 1402h3v8h-3zM1725 1402h3v20h-3zM1729 1402h3v34h-3zM1733 1402h3v44h-3zM1737 1402h3v46h-3zM1741 1402h3v48h-3zM1817 1402h3v6h-3zM1821 1402h3v21h-3zM1825 1402h3v35h-3zM1829 1402h3v43h-3zM1833 1402h3v53h-3zM1837 1402h3v59h-3zM1841 1402h3v59h-3zM1845 1402h3v59h-3zM1889 1402h3v2h-3zM1893 1402h3v16h-3zM1897 1402h3v26h-3zM1901 1402h3v27h-3zM1909 1402h3v27h-3zM1985 1402h3v3h-3zM1989 1402h3v9h-3zM1993 1402h3v13h-3z"/><path fill="#008000" d="M5 1402h3v10h-3zM9 1402h3v9h-3zM69 1402h3v36h-3zM73 1402h3v30h-3zM77 1402h3v22h-3zM81 1402h3v14h-3zM85 1402h3v5h-3zM89 1402h3v2h-3zM117 1402h3v17h-3zM121 1402h3v10h-3zM125 1402h3v6h-3zM129 1402h3v4h-3zM133 1402h3v3h-3zM237 1402h3v40h-3zM241 1402h3v22h-3zM245 1402h3v10h-3zM249 1402h3v3h-3zM305 1402h3v21h-3zM309 1402h3v16h-3zM321 1402h3v19h-3zM353 1402h3v73h-3zM357 1402h3v67h-3zM361 1402h3v53h-3zM365 1402h3v38h-3zM369 1402h3v27h-3zM373 1402h3v15h-3zM461 1402h3v34h-3zM465 1402h3v20h-3zM469 1402h3v5h-3zM657 1402h3v20h-3zM661 1402h3v15h-3zM665 1402h3v11h-3zM669 1402h3v6h-3zM749 1402h3v54h-3zM753 1402h3v47h-3zM757 1402h3v16h-3zM849 1402h3v13h-3zM873 1402h3v20h-3zM893 1402h3v31h-3zM897 1402h3v21h-3zM901 1402h3v13h-3zM905 1402h3v6h-3zM909 1402h3v3h-3zM941 1402h3v44h-3zM945 1402h3v36h-3zM949 1402h3v29h-3zM953 1402h3v21h-3zM957 1402h3v12h-3zM961 1402h3v3h-3zM1089 1402h3v72h-3zM1093 1402h3v70h-3zM1097 1402h3v64h-3zM1101 1402h3v57h-3zM1105 1402h3v52h-3zM1109 1402h3v46h-3zM1113 1402h3v33h-3zM1117 1402h3v9h-3zM1181 1402h3v11h-3zM1189 1402h3v8h-3zM1193 1402h3v4h-3zM1221 1402h3v32h-3zM1225 1402h3v28h-3zM1229 1402h3v16h-3zM1233 1402h3v11h-3zM1237 1402h3v2h-3zM1273 1402h3v12h-3zM1277 1402h3v10h-3zM1281 1402h3v3h-3zM1369 1402h3v57h-3zM1373 1402h3v54h-3zM1377 1402h3v27h-3zM1453 1402h3v13h-3zM1457 1402h3v6h-3zM1473 1402h3v12h-3zM1489 1402h3v39h-3zM1493 1402h3v34h-3zM1497 1402h3v14h-3zM1561 1402h3v89h-3zM1565 1402h3v81h-3zM1569 1402h3v67h-3zM1573 1402h3v45h-3zM1577 1402h3v28h-3zM1581 1402h3v12h-3zM1609 1402h3v23h-3zM1617 1402h3v16h-3zM1621 1402h3v2h-3zM1673 1402h3v48h-3zM1677 1402h3v42h-3zM1681 1402h3v33h-3zM1685 1402h3v26h-3zM1689 1402h3v14h-3zM1693 1402h3v1h-3zM1745 1402h3v42h-3zM1749 1402h3v24h-3zM1753 1402h3v8h-3zM1849 1402h3v54h-3zM1853 1402h3v40h-3zM1857 1402h3v28h-3zM1861 1402h3v13h-3zM1905 1402h3v26h-3zM1913 1402h3v25h-3zM1917 1402h3v23h-3zM1921 1402h3v17h-3zM1925 1402h3v10h-3z"/></g><g><polyline fill="none" stroke="#000" stroke-width="1.1" stroke-dasharray="4 4" points="2.1,1457.2 12.7,1462.4 27.4,1459.3 42.2,1446.6 49.6,1441.3 63.3,1447.7 75.9,1459.3 88.6,1467.7 109.7,1470.9 126.5,1476.1 143.4,1478.2 158.2,1468.8 170.8,1455.1 183.5,1437.1 198.2,1416 210.9,1403.4 219.3,1397.5 227.7,1397.1 236.2,1405.5 244.6,1416 257.3,1421.3 272,1413.9 284.7,1404.4 293.1,1402.3 305.8,1405.5 318.4,1413.9 329,1423.4 341.6,1439.2 354.3,1462.4 362.7,1470.9 375.3,1492 385.9,1495.1 400.6,1486.7 415.4,1475.1 430.2,1461.4 438.6,1454 451.3,1459.3 463.9,1470.9 474.5,1477.2 485,1478.2 497.6,1470.9 502.1,1461.4 512.7,1443.5 525.3,1422.4 538,1408.7 550.6,1403.4 563.3,1398.1 573.8,1388.6 584.3,1374.9 594.9,1357 609.7,1341.2 622.3,1330.6 635,1325.4 645.5,1325.8 656,1332.7 668.7,1342.2 679.2,1344.3 689.8,1338 702.4,1328.5 715.1,1321.2 727.7,1323.3 738.3,1333.8 748.8,1352.8 759.4,1365.4 769.9,1367.5 780.5,1361.2 795.2,1348.6 805.8,1344.3 820.5,1341.2 833.2,1334.9 845.8,1334.9 858.5,1339.1 871.1,1348.6 883.8,1361.2 896.4,1373.9 909.1,1381.2 921.7,1386.5 932.3,1395 942.8,1405.5 953.4,1422.4 963.9,1426.6 976.6,1427.6 989.2,1420.3 1002.1,1395 1012.7,1369.7 1023.2,1348.6 1033.7,1329.6 1044.3,1314.8 1054.8,1308.5 1065.4,1312.7 1075.9,1325.4 1086.5,1352.8 1097,1373.9 1107.5,1395 1118.1,1405.5 1126.5,1408.7 1135,1401.3 1145.5,1384.4 1156,1367.5 1166.6,1357 1177.1,1353.8 1187.7,1353.8 1198.2,1358.1 1208.8,1365.4 1221.4,1376 1234.1,1384.4 1246.7,1388.6 1259.4,1388 1272,1390.7 1280.5,1395 1291,1391.8 1301.5,1385.5 1312.1,1369.7 1322.6,1340.1 1333.2,1314.8 1341.6,1299 1350,1295.8 1358.5,1302.2 1369,1319 1379.6,1338 1390.1,1343.3 1400.6,1340.1 1413.3,1327.5 1426,1310.6 1438.6,1296.9 1447,1291.6 1457.6,1295.8 1470.2,1301.1 1482.9,1311.7 1495.5,1323.3 1500,1326.4 1512.7,1325.4 1523.2,1316.9 1531.6,1314.8 1540.1,1321.2 1548.5,1338 1556.9,1361.2 1565.4,1388.6 1575.9,1416 1584.3,1428.7 1594.9,1435 1607.5,1439.2 1620.2,1445.6 1630.7,1446.6 1641.3,1442.4 1651.8,1437.1 1660.3,1437.1 1670.8,1449.8 1681.3,1464.5 1691.9,1477.2 1702.4,1480.4 1713,1475.1 1723.5,1468.8 1734.1,1470.9 1744.6,1483.5 1755.2,1496.2 1763.6,1498.3 1774.1,1494.1 1784.7,1486.7 1795.2,1465.6 1805.8,1443.5 1816.3,1424.5 1824.7,1417.1 1833.2,1422.4 1841.6,1437.1 1850,1454 1858.5,1466.7 1869,1474 1879.6,1470.9 1890.1,1467.7 1900.6,1467.7 1911.2,1474 1921.7,1482.5 1932.3,1486.7 1942.8,1484.6 1953.4,1475.1 1963.9,1462.4 1974.5,1449.8 1982.9,1441.3 1993.4,1439.2"/><polyline fill="none" stroke="#000" stroke-width="1.1"  points="2.1,1464.1 10.5,1464.5 21.1,1450.8 30.6,1443.5 34.8,1430.4 40.1,1438.8 49.6,1439.9 61.2,1460.3 70.6,1472.3 86.5,1468.3 99.1,1469.8 114.9,1482.5 126.5,1479.3 135,1478.9 147.6,1465.6 160.3,1451.9 170.8,1428.7 181.3,1418.2 190.8,1409.7 200.3,1395 210.9,1386.1 216.1,1386.1 218.2,1403.4 229.8,1422.4 238.3,1428.7 244.6,1421.3 256.2,1416 269.9,1400.9 282.6,1400.2 286.8,1398.1 293.1,1407.6 301.5,1417.1 312.1,1418.2 322.6,1425.5 332.1,1439.2 339.5,1454 345.8,1475.1 352.1,1492 358.5,1500 364.8,1500 374.3,1499.3 385.9,1484.6 394.3,1483.5 404.9,1467.7 407,1462.9 421.7,1455.1 430.2,1451.9 438.6,1450.4 444.9,1466.7 453.4,1477.2 462.9,1487.7 474.5,1471.9 487.1,1467.7 495.5,1449.8 500,1440.3 508.4,1426.6 519,1410.8 527.4,1399.2 533.7,1396.6 542.2,1399.2 552.7,1404.4 559,1399.2 565.4,1380.2 573.8,1361.2 584.3,1346.5 592.8,1341.8 605.4,1332.7 613.9,1322.2 620.2,1319 626.5,1323.3 635,1327.5 643.4,1332.7 655,1351.7 662.4,1345.4 672.9,1343.3 681.3,1335.9 689.8,1323.3 702.4,1315.9 713,1321.2 723.5,1333.8 734.1,1350.7 744.6,1371.8 753,1384.4 757.3,1378.1 765.7,1357 773.1,1345.4 782.6,1347.5 798.4,1353.8 805.8,1338 814.2,1331.7 829,1332.7 841.6,1338 854.3,1346.5 866.9,1361.2 877.5,1365.4 888,1384.4 892.2,1389.7 900.6,1384.8 913.3,1382.3 918.6,1385.5 923.8,1403.4 932.3,1420.3 940.7,1428.7 951.3,1430.8 959.7,1426.6 966,1421.3 971.3,1427.6 978.7,1420.3 987.1,1403.4 997.6,1373.9 1000,1368.6 1008.4,1348.6 1016.9,1327.5 1025.3,1314.8 1035.8,1307.4 1047.4,1303.2 1052.7,1308.5 1061.2,1327.5 1069.6,1339.1 1078,1361.2 1086.5,1386.5 1094.9,1403.4 1105.4,1419.2 1111.8,1422.8 1116,1421.3 1122.3,1403.4 1130.7,1380.2 1139.2,1369.7 1147.6,1360.2 1153.9,1352.8 1158.2,1344.3 1166.6,1350.7 1175,1361.2 1181.3,1362.3 1189.8,1359.1 1196.1,1359.1 1202.4,1371.8 1210.9,1380.2 1219.3,1388.6 1226.7,1393.3 1234.1,1389.7 1242.5,1385.5 1253,1389.3 1265.7,1396 1276.2,1398.8 1284.7,1392.8 1295.2,1378.1 1303.6,1363.3 1310,1342.2 1316.3,1312.7 1322.6,1285.3 1327.9,1277.9 1332.1,1280 1337.4,1292.7 1345.8,1308.5 1356.4,1327.5 1366.9,1350.7 1374.3,1360.2 1379.6,1348.6 1385.9,1332.7 1394.3,1328.5 1404.9,1321.2 1413.3,1302.2 1419.6,1290.6 1426,1287.4 1438.6,1291.6 1447,1305.3 1455.5,1299 1463.9,1305.3 1474.5,1310.6 1485,1331.7 1493.4,1338.4 1500,1326.4 1508.4,1312.7 1517.9,1302.2 1526.4,1312.7 1533.7,1342.2 1544.3,1378.1 1552.7,1407.6 1561.2,1428.7 1570.6,1441.3 1582.2,1434 1590.7,1427.6 1597,1441.3 1607.5,1452.9 1614.9,1456.1 1622.3,1445.6 1626.5,1432.9 1633.9,1427.2 1645.5,1435 1656,1448.7 1666.6,1468.8 1675,1481.4 1685.6,1486.1 1694,1480.4 1702.4,1470.9 1710.9,1458.2 1714,1455.1 1719.3,1467.7 1729.8,1486.7 1738.3,1500.4 1746.7,1508.4 1755.2,1497.2 1765.7,1485.6 1774.1,1482.5 1782.6,1475.1 1791,1437.1 1798.4,1405.5 1803.6,1404.4 1810,1408.7 1818.4,1424.5 1829,1439.2 1837.4,1460.3 1847.9,1480.4 1854.3,1481.4 1862.7,1475.1 1871.1,1467.7 1879.6,1458.2 1885.9,1457.2 1892.2,1469.8 1898.5,1481 1907,1483.5 1915.4,1488.8 1921.7,1492 1930.2,1486.7 1940.7,1473 1951.3,1449.8 1961.8,1441.3 1972.3,1435 1977.6,1432.5 1982.9,1439.2 1993.4,1445.1"/><line x1="10.5" y1="1464.5" x2="42.2" y2="1439.2" stroke="#00FF00" stroke-width="1.2"/><line x1="135" y1="1478.9" x2="238.3" y2="1428.7" stroke="#00FF00" stroke-width="1.2"/><line x1="363.7" y1="1500" x2="430.2" y2="1452.3" stroke="#00FF00" stroke-width="1.2"/><line x1="363.7" y1="1500" x2="461.8" y2="1487.7" stroke="#00FF00" stroke-width="1.2"/><line x1="1746.7" y1="1508.4" x2="1850" y2="1482.5" stroke="#00FF00" stroke-width="1.2"/><line x1="702.4" y1="1316.5" x2="814.2" y2="1331.7" stroke="#FF0000" stroke-width="1.2"/><line x1="702.4" y1="1316.5" x2="773.1" y2="1344.3" stroke="#FF0000" stroke-width="1.2"/><line x1="814.2" y1="1331.7" x2="913.3" y2="1382.3" stroke="#FF0000" stroke-width="1.2"/><line x1="814.2" y1="1331.7" x2="905.9" y2="1383.4" stroke="#FF0000" stroke-width="1.2"/><line x1="1047.4" y1="1303.2" x2="1158.2" y2="1344.3" stroke="#FF0000" stroke-width="1.2"/><line x1="1047.4" y1="1303.2" x2="1181.3" y2="1359.1" stroke="#FF0000" stroke-width="1.2"/><line x1="1047.4" y1="1303.2" x2="1194" y2="1358.1" stroke="#FF0000" stroke-width="1.2"/><line x1="1331.1" y1="1277.3" x2="1426" y2="1287" stroke="#FF0000" stroke-width="1.2"/><line x1="1331.1" y1="1277.3" x2="1457.6" y2="1298.6" stroke="#FF0000" stroke-width="1.2"/><line x1="1331.1" y1="1277.3" x2="1517.9" y2="1300.1" stroke="#FF0000" stroke-width="1.2"/><line x1="36.9" y1="1429.7" x2="214" y2="1385.5" stroke="#FF0000" stroke-width="1.1" stroke-dasharray="3 3"/><line x1="440.7" y1="1448.7" x2="533.7" y2="1396" stroke="#FF0000" stroke-width="1.1" stroke-dasharray="3 3"/><line x1="1714" y1="1454" x2="1801.5" y2="1405.5" stroke="#FF0000" stroke-width="1.1" stroke-dasharray="3 3"/><line x1="1883.8" y1="1457.2" x2="1974.5" y2="1432.9" stroke="#FF0000" stroke-width="1.1" stroke-dasharray="3 3"/><line x1="655" y1="1351.7" x2="753" y2="1385.5" stroke="#00FF00" stroke-width="1.2" stroke-dasharray="3 3"/><line x1="753" y1="1385.5" x2="890.1" y2="1390.7" stroke="#00FF00" stroke-width="1.2" stroke-dasharray="3 3"/><line x1="753" y1="1385.5" x2="953.4" y2="1432.9" stroke="#00FF00" stroke-width="1.2" stroke-dasharray="3 3"/><line x1="753" y1="1385.5" x2="969.2" y2="1427.6" stroke="#00FF00" stroke-width="1.2" stroke-dasharray="3 3"/><path d="M42.2 1436.3l-4 4h3v4h2v-4h3z" fill="#008000" stroke="#d4c000" stroke-width=".6"/><path d="M238.3 1424.7l-4 4h3v4h2v-4h3z" fill="#008000" stroke="#d4c000" stroke-width=".6"/><path d="M430.2 1448.9l-4 4h3v4h2v-4h3z" fill="#008000" stroke="#d4c000" stroke-width=".6"/><path d="M461.8 1483.7l-4 4h3v4h2v-4h3z" fill="#008000" stroke="#d4c000" stroke-width=".6"/><path d="M754.1 1382.1l-4 4h3v4h2v-4h3z" fill="#008000" stroke="#d4c000" stroke-width=".6"/><path d="M890.1 1386.7l-4 4h3v4h2v-4h3z" fill="#008000" stroke="#d4c000" stroke-width=".6"/><path d="M953.4 1428.9l-4 4h3v4h2v-4h3z" fill="#008000" stroke="#d4c000" stroke-width=".6"/><path d="M969.8 1424.3l-4 4h3v4h2v-4h3z" fill="#008000" stroke="#d4c000" stroke-width=".6"/><path d="M1850 1478.5l-4 4h3v4h2v-4h3z" fill="#008000" stroke="#d4c000" stroke-width=".6"/><path d="M214 1387.4l-4 -4h3v-4h2v4h3z" fill="#e00000" stroke="#d060a0" stroke-width=".6"/><path d="M533.7 1398l-4 -4h3v-4h2v4h3z" fill="#e00000" stroke="#d060a0" stroke-width=".6"/><path d="M773.7 1346.3l-4 -4h3v-4h2v4h3z" fill="#e00000" stroke="#d060a0" stroke-width=".6"/><path d="M814.2 1333.6l-4 -4h3v-4h2v4h3z" fill="#e00000" stroke="#d060a0" stroke-width=".6"/><path d="M905.9 1385.3l-4 -4h3v-4h2v4h3z" fill="#e00000" stroke="#d060a0" stroke-width=".6"/><path d="M913.7 1384.2l-4 -4h3v-4h2v4h3z" fill="#e00000" stroke="#d060a0" stroke-width=".6"/><path d="M1158.2 1345.2l-4 -4h3v-4h2v4h3z" fill="#e00000" stroke="#d060a0" stroke-width=".6"/><path d="M1181.3 1361.7l-4 -4h3v-4h2v4h3z" fill="#e00000" stroke="#d060a0" stroke-width=".6"/><path d="M1194 1360.6l-4 -4h3v-4h2v4h3z" fill="#e00000" stroke="#d060a0" stroke-width=".6"/><path d="M1426 1289.4l-4 -4h3v-4h2v4h3z" fill="#e00000" stroke="#d060a0" stroke-width=".6"/><path d="M1457.6 1301l-4 -4h3v-4h2v4h3z" fill="#e00000" stroke="#d060a0" stroke-width=".6"/><path d="M1517.9 1302l-4 -4h3v-4h2v4h3z" fill="#e00000" stroke="#d060a0" stroke-width=".6"/><path d="M1801.5 1407.4l-4 -4h3v-4h2v4h3z" fill="#e00000" stroke="#d060a0" stroke-width=".6"/><path d="M1974 1433.8l-4 -4h3v-4h2v4h3z" fill="#e00000" stroke="#d060a0" stroke-width=".6"/></g><g fill="#000080" shape-rendering="crispEdges"><rect x="1" y="255" width="2499" height="1"/><rect x="1" y="253" width="1" height="1268"/><rect x="2499" y="255" width="1" height="1008"/><rect x="2499" y="1264" width="1" height="257"/><rect x="1" y="1262" width="2499" height="1"/><rect x="1" y="1264" width="2499" height="1"/><rect x="1" y="1520" width="2500" height="1"/><rect x="2500" y="317" width="2" height="1"/><rect x="2500" y="382" width="2" height="1"/><rect x="2500" y="447" width="2" height="1"/><rect x="2500" y="512" width="2" height="1"/><rect x="2500" y="577" width="2" height="1"/><rect x="2500" y="642" width="2" height="1"/><rect x="2500" y="707" width="2" height="1"/><rect x="2500" y="772" width="2" height="1"/><rect x="2500" y="837" width="2" height="1"/><rect x="2500" y="902" width="2" height="1"/><rect x="2500" y="967" width="2" height="1"/><rect x="2500" y="1032" width="2" height="1"/><rect x="2500" y="1097" width="2" height="1"/><rect x="2500" y="1162" width="2" height="1"/><rect x="2500" y="1227" width="2" height="1"/><rect x="2500" y="1266" width="1" height="1"/><rect x="2500" y="1402" width="1" height="1"/><rect x="2" y="1521" width="1" height="3"/><rect x="130" y="1521" width="1" height="3"/><rect x="258" y="1521" width="1" height="3"/><rect x="386" y="1521" width="1" height="3"/><rect x="514" y="1521" width="1" height="3"/><rect x="642" y="1521" width="1" height="3"/><rect x="770" y="1521" width="1" height="3"/><rect x="898" y="1521" width="1" height="3"/><rect x="1026" y="1521" width="1" height="3"/><rect x="1154" y="1521" width="1" height="3"/><rect x="1282" y="1521" width="1" height="3"/><rect x="1410" y="1521" width="1" height="3"/><rect x="1538" y="1521" width="1" height="3"/><rect x="1666" y="1521" width="1" height="3"/><rect x="1794" y="1521" width="1" height="3"/><rect x="1922" y="1521" width="1" height="3"/><path d="M5 266h13l-6.500 7z"/></g><g font-family="Liberation Sans, sans-serif" font-size="19" fill="#000080" stroke="#000080" stroke-width=".35"><text x="2508.9" y="324.7" textLength="64.5" lengthAdjust="spacingAndGlyphs">1355.15</text><text x="2508.9" y="389.7" textLength="64.5" lengthAdjust="spacingAndGlyphs">1344.50</text><text x="2508.9" y="454.7" textLength="64.5" lengthAdjust="spacingAndGlyphs">1333.85</text><text x="2508.9" y="519.7" textLength="64.5" lengthAdjust="spacingAndGlyphs">1323.20</text><text x="2508.9" y="584.7" textLength="64.5" lengthAdjust="spacingAndGlyphs">1312.70</text><text x="2508.9" y="649.7" textLength="64.5" lengthAdjust="spacingAndGlyphs">1302.05</text><text x="2508.9" y="714.7" textLength="64.5" lengthAdjust="spacingAndGlyphs">1291.40</text><text x="2508.9" y="779.7" textLength="64.5" lengthAdjust="spacingAndGlyphs">1280.75</text><text x="2508.9" y="909.7" textLength="64.5" lengthAdjust="spacingAndGlyphs">1259.60</text><text x="2508.9" y="974.7" textLength="64.5" lengthAdjust="spacingAndGlyphs">1248.95</text><text x="2508.9" y="1039.7" textLength="64.5" lengthAdjust="spacingAndGlyphs">1238.30</text><text x="2508.9" y="1104.7" textLength="64.5" lengthAdjust="spacingAndGlyphs">1227.65</text><text x="2508.9" y="1169.7" textLength="64.5" lengthAdjust="spacingAndGlyphs">1217.00</text><text x="2508.9" y="1234.7" textLength="64.5" lengthAdjust="spacingAndGlyphs">1206.50</text><text x="2508.900" y="844.7" textLength="64.500" lengthAdjust="spacingAndGlyphs" clip-path="url(#cp127)">1270.10</text><text x="2503.4" y="1284.9" textLength="55.5" lengthAdjust="spacingAndGlyphs">9.1977</text><text x="2503.6" y="1409.9" textLength="34.8" lengthAdjust="spacingAndGlyphs">0.00</text><text x="2503.6" y="1514.8" textLength="62" lengthAdjust="spacingAndGlyphs">-7.9264</text><text x="130" y="1542.7" textLength="107" lengthAdjust="spacingAndGlyphs">20 Jun 20:00</text><text x="258" y="1542.7" textLength="107" lengthAdjust="spacingAndGlyphs">28 Jun 04:00</text><text x="386" y="1542.7" textLength="90.5" lengthAdjust="spacingAndGlyphs">5 Jul 12:00</text><text x="514" y="1542.7" textLength="100.8" lengthAdjust="spacingAndGlyphs">12 Jul 20:00</text><text x="642" y="1542.7" textLength="100.8" lengthAdjust="spacingAndGlyphs">20 Jul 04:00</text><text x="770" y="1542.7" textLength="100.8" lengthAdjust="spacingAndGlyphs">27 Jul 12:00</text><text x="898" y="1542.7" textLength="98.8" lengthAdjust="spacingAndGlyphs">3 Aug 20:00</text><text x="1026" y="1542.7" textLength="107.7" lengthAdjust="spacingAndGlyphs">11 Aug 04:00</text><text x="1154" y="1542.7" textLength="109.1" lengthAdjust="spacingAndGlyphs">18 Aug 12:00</text><text x="1282" y="1542.7" textLength="109.1" lengthAdjust="spacingAndGlyphs">25 Aug 20:00</text><text x="1410" y="1542.7" textLength="99.8" lengthAdjust="spacingAndGlyphs">4 Sep 06:00</text><text x="1538" y="1542.7" textLength="108.7" lengthAdjust="spacingAndGlyphs">11 Sep 14:00</text><text x="1666" y="1542.7" textLength="110.1" lengthAdjust="spacingAndGlyphs">18 Sep 22:00</text><text x="1794" y="1542.7" textLength="110.1" lengthAdjust="spacingAndGlyphs">26 Sep 04:00</text><text x="1922" y="1542.7" textLength="95.7" lengthAdjust="spacingAndGlyphs">3 Oct 12:00</text><text x="72.6" y="1542.7" textLength="30.2" lengthAdjust="spacingAndGlyphs">017</text><text x="29.5" y="277.2" textLength="76" lengthAdjust="spacingAndGlyphs">GOLD,H4</text><text x="118.7" y="277.2" textLength="280.5" lengthAdjust="spacingAndGlyphs">1268.18 1268.27 1266.93 1267.82</text><text x="6.7" y="1287" textLength="48.5" lengthAdjust="spacingAndGlyphs">MACD</text><text x="119.8" y="1287" textLength="289.3" lengthAdjust="spacingAndGlyphs">[CurrTF] (12,26,9) -2.9407 -2.4958</text></g><text x="56.8" y="1286" font-family="'Liberation Serif', 'Noto Serif CJK SC', serif" font-size="18.3" fill="#000080">无极版</text><defs><clipPath id="cp127"><rect x="2500" y="820" width="84" height="20"/></clipPath></defs><rect x="2501" y="840" width="80" height="23" fill="#000080"/><text x="2508.900" y="858.700" font-family="Liberation Sans, sans-serif" font-size="19" fill="#fff" stroke="#fff" stroke-width=".3" textLength="64.600" lengthAdjust="spacingAndGlyphs">1267.82</text><rect x="0" y="1524" width="80" height="23" fill="#000080"/><text x="1.600" y="1542.700" font-family="Liberation Sans, sans-serif" font-size="19" fill="#fff" stroke="#fff" stroke-width=".3" textLength="71" lengthAdjust="spacingAndGlyphs">13 12:00</text><path d="M1988.700 256h19.500l-9.750 10.200z" fill="#778899"/><rect x="0" y="1553" width="2584" height="1" fill="#e0e0e0"/><text x="2090" y="758" font-family="'Liberation Serif', 'Noto Serif CJK SC', serif" font-weight="bold" font-size="32.5" fill="#0000FF">上方压力位</text><text x="2252.5" y="757" font-family="Liberation Sans, sans-serif" font-weight="bold" font-size="33" fill="#0000FF">1280</text><text x="2325.9" y="758" font-family="'Liberation Serif', 'Noto Serif CJK SC', serif" font-weight="bold" font-size="32.5" fill="#0000FF">附近</text><text x="2090" y="808" font-family="'Liberation Serif', 'Noto Serif CJK SC', serif" font-weight="bold" font-size="32.5" fill="#0000FF">非农前压力位</text><text x="2285" y="807" font-family="Liberation Sans, sans-serif" font-weight="bold" font-size="33" fill="#0000FF">1272</text><text x="2358.4" y="808" font-family="'Liberation Serif', 'Noto Serif CJK SC', serif" font-weight="bold" font-size="32.5" fill="#0000FF">附近</text><text x="2096" y="978" font-family="'Liberation Serif', 'Noto Serif CJK SC', serif" font-weight="bold" font-size="32.5" fill="#0000FF">下方支撑位</text><text x="2258.5" y="977" font-family="Liberation Sans, sans-serif" font-weight="bold" font-size="33" fill="#0000FF">1253</text><text x="2331.9" y="978" font-family="'Liberation Serif', 'Noto Serif CJK SC', serif" font-weight="bold" font-size="32.5" fill="#0000FF">附近</text><rect x="0" y="0" width="2584" height="56" fill="#fff"/><defs><linearGradient id="gi" x1="0" y1="0" x2="0" y2="1"><stop offset="0" stop-color="#4a3410"/><stop offset=".55" stop-color="#7a5c1c"/><stop offset="1" stop-color="#8a7330"/></linearGradient></defs><rect x="10" y="11" width="32" height="32" rx="4" fill="url(#gi)"/><text x="12" y="30" font-family="Liberation Sans, sans-serif" font-size="11" font-weight="bold" fill="#dcae38" fill-opacity=".85" textLength="28" lengthAdjust="spacingAndGlyphs">igold</text><text x="186.5" y="35.5" font-family="Liberation Sans, sans-serif" font-size="24.5" fill="#000" textLength="310" lengthAdjust="spacingAndGlyphs">Acetop-Live02 - [GOLD,H4]</text><g stroke="#000" stroke-width="2" fill="none"><path d="M2346 27h20"/><rect x="2438" y="18" width="18" height="18"/><path d="M2530.500 17.500l19 19M2549.500 17.500l-19 19" stroke-width="1.800"/></g><rect x="0" y="56" width="2584" height="197" fill="#f0f0f0"/><g><rect x="4" y="60.300" width="25" height="17.500" fill="#fff" stroke="#4f8cf8" stroke-width="2"/><rect x="4" y="60.300" width="25" height="17.500" fill="none" stroke="#5a8f78" stroke-width="2" stroke-dasharray="2 4.500"/><rect x="5" y="61.300" width="23" height="2.700" fill="#4f8cf8"/><path d="M11 66v7.500M8.500 68.500l2.500-2.500 2.500 2.500M18 66v7.500M15.500 68h5" stroke="#4f8cf8" stroke-width="1.800" fill="none"/><rect x="11" y="74.400" width="23" height="15.300" fill="#fff" stroke="#4f8cf8" stroke-width="2"/><rect x="11" y="74.400" width="23" height="15.300" fill="none" stroke="#5a8f78" stroke-width="2" stroke-dasharray="2 4.500"/><path d="M14.500 78.500h2.500l3 7 3-7h2.500l3 7" stroke="#4f8cf8" stroke-width="1.800" fill="none"/></g><text x="50.2" y="85" font-family="'Liberation Sans', 'Noto Sans CJK SC', sans-serif" font-size="25.2" fill="#000">文件</text><text x="100.6" y="84.5" font-family="Liberation Sans, sans-serif" font-size="24" fill="#000" textLength="25.9" lengthAdjust="spacingAndGlyphs">(F)</text><text x="163.7" y="85" font-family="'Liberation Sans', 'Noto Sans CJK SC', sans-serif" font-size="25.2" fill="#000">显示</text><text x="214.1" y="84.5" font-family="Liberation Sans, sans-serif" font-size="24" fill="#000" textLength="28.4" lengthAdjust="spacingAndGlyphs">(V)</text><text x="278.7" y="85" font-family="'Liberation Sans', 'Noto Sans CJK SC', sans-serif" font-size="25.2" fill="#000">插入</text><text x="329.1" y="84.5" font-family="Liberation Sans, sans-serif" font-size="24" fill="#000" textLength="20.4" lengthAdjust="spacingAndGlyphs">(I)</text><text x="386.7" y="85" font-family="'Liberation Sans', 'Noto Sans CJK SC', sans-serif" font-size="25.2" fill="#000">图表</text><text x="437.1" y="84.5" font-family="Liberation Sans, sans-serif" font-size="24" fill="#000" textLength="28.4" lengthAdjust="spacingAndGlyphs">(C)</text><text x="502.7" y="85" font-family="'Liberation Sans', 'Noto Sans CJK SC', sans-serif" font-size="25.2" fill="#000">工具</text><text x="553.1" y="84.5" font-family="Liberation Sans, sans-serif" font-size="24" fill="#000" textLength="26.9" lengthAdjust="spacingAndGlyphs">(T)</text><text x="615.7" y="85" font-family="'Liberation Sans', 'Noto Sans CJK SC', sans-serif" font-size="25.2" fill="#000">窗口</text><text x="666.1" y="84.5" font-family="Liberation Sans, sans-serif" font-size="24" fill="#000" textLength="37.4" lengthAdjust="spacingAndGlyphs">(W)</text><text x="739.2" y="85" font-family="'Liberation Sans', 'Noto Sans CJK SC', sans-serif" font-size="25.2" fill="#000">帮助</text><text x="789.6" y="84.5" font-family="Liberation Sans, sans-serif" font-size="24" fill="#000" textLength="32.4" lengthAdjust="spacingAndGlyphs">(H)</text><g fill="#fff" stroke="#dcdcdc" stroke-width="1"><rect x="2473.500" y="57.500" width="36" height="36"/><rect x="2511.500" y="57.500" width="36" height="36"/><rect x="2549.500" y="57.500" width="36" height="36"/></g><g stroke="#5a6f8c" stroke-width="1.600" fill="none"><path d="M2488 79h6" stroke-width="2"/><rect x="2526.300" y="75.300" width="5.400" height="4"/><path d="M2528.500 75v-2.300h5.300v4.600h-2"/><path d="M2565.300 73.300l6.400 6.400M2571.700 73.300l-6.400 6.400" stroke-width="2"/></g><rect x="0" y="95" width="2584" height="1" fill="#a0a0a0"/><rect x="0" y="96" width="2584" height="1" fill="#fff"/><rect x="0" y="100" width="3" height="1" fill="#b4b4b4"/><rect x="0" y="102" width="3" height="1" fill="#b4b4b4"/><rect x="0" y="104" width="3" height="1" fill="#b4b4b4"/><rect x="0" y="106" width="3" height="1" fill="#b4b4b4"/><rect x="0" y="108" width="3" height="1" fill="#b4b4b4"/><rect x="0" y="110" width="3" height="1" fill="#b4b4b4"/><rect x="0" y="112" width="3" height="1" fill="#b4b4b4"/><rect x="0" y="114" width="3" height="1" fill="#b4b4b4"/><rect x="0" y="116" width="3" height="1" fill="#b4b4b4"/><rect x="0" y="118" width="3" height="1" fill="#b4b4b4"/><rect x="0" y="120" width="3" height="1" fill="#b4b4b4"/><rect x="0" y="122" width="3" height="1" fill="#b4b4b4"/><rect x="0" y="124" width="3" height="1" fill="#b4b4b4"/><rect x="0" y="126" width="3" height="1" fill="#b4b4b4"/><rect x="0" y="128" width="3" height="1" fill="#b4b4b4"/><rect x="0" y="130" width="3" height="1" fill="#b4b4b4"/><rect x="0" y="132" width="3" height="1" fill="#b4b4b4"/><rect x="0" y="134" width="3" height="1" fill="#b4b4b4"/><rect x="0" y="136" width="3" height="1" fill="#b4b4b4"/><rect x="0" y="138" width="3" height="1" fill="#b4b4b4"/><rect x="0" y="140" width="3" height="1" fill="#b4b4b4"/><rect x="0" y="142" width="3" height="1" fill="#b4b4b4"/><rect x="0" y="144" width="3" height="1" fill="#b4b4b4"/><rect x="0" y="147" width="1437" height="1" fill="#a0a0a0"/><rect x="1437" y="97" width="1" height="51" fill="#a0a0a0"/><rect x="762" y="97" width="1" height="50" fill="#a0a0a0"/><rect x="765" y="100" width="3" height="1" fill="#b4b4b4"/><rect x="765" y="102" width="3" height="1" fill="#b4b4b4"/><rect x="765" y="104" width="3" height="1" fill="#b4b4b4"/><rect x="765" y="106" width="3" height="1" fill="#b4b4b4"/><rect x="765" y="108" width="3" height="1" fill="#b4b4b4"/><rect x="765" y="110" width="3" height="1" fill="#b4b4b4"/><rect x="765" y="112" width="3" height="1" fill="#b4b4b4"/><rect x="765" y="114" width="3" height="1" fill="#b4b4b4"/><rect x="765" y="116" width="3" height="1" fill="#b4b4b4"/><rect x="765" y="118" width="3" height="1" fill="#b4b4b4"/><rect x="765" y="120" width="3" height="1" fill="#b4b4b4"/><rect x="765" y="122" width="3" height="1" fill="#b4b4b4"/><rect x="765" y="124" width="3" height="1" fill="#b4b4b4"/><rect x="765" y="126" width="3" height="1" fill="#b4b4b4"/><rect x="765" y="128" width="3" height="1" fill="#b4b4b4"/><rect x="765" y="130" width="3" height="1" fill="#b4b4b4"/><rect x="765" y="132" width="3" height="1" fill="#b4b4b4"/><rect x="765" y="134" width="3" height="1" fill="#b4b4b4"/><rect x="765" y="136" width="3" height="1" fill="#b4b4b4"/><rect x="765" y="138" width="3" height="1" fill="#b4b4b4"/><rect x="765" y="140" width="3" height="1" fill="#b4b4b4"/><rect x="765" y="142" width="3" height="1" fill="#b4b4b4"/><rect x="765" y="144" width="3" height="1" fill="#b4b4b4"/><defs><linearGradient id="gp" x1="0" y1="0" x2="1" y2="1"><stop offset="0" stop-color="#7cf88c"/><stop offset=".5" stop-color="#12e034"/><stop offset="1" stop-color="#0fae1c"/></linearGradient><linearGradient id="gw" x1="0" y1="0" x2="0" y2="1"><stop offset="0" stop-color="#4a8ad0"/><stop offset="1" stop-color="#dcecfb"/></linearGradient></defs><rect x="12.2" y="106.5" width="23" height="20.5" rx="1.5" fill="#fdfeff" stroke="#3f78c4" stroke-width="1.6"/><rect x="13" y="107.3" width="21.4" height="5" fill="url(#gw)"/><path d="M17.500 112v12M15 114.800h5M15 121h5" stroke="#8aa0b8" stroke-width="1.600" fill="none"/><path d="M28.6 112.4h7.6v7.8h7.8v7.6h-7.8v7.8h-7.6v-7.8h-7.8v-7.6h7.8z" fill="url(#gp)" stroke="#0a8410" stroke-width="1.400" stroke-linejoin="round"/><rect x="48" y="105.500" width="1" height="22.500" fill="#8cc0f4"/><path d="M56.8 120h11.400l-5.700 6.200z" fill="#000"/><rect x="94.6" y="117.6" width="25.6" height="19.8" rx="1.5" fill="#fdfeff" stroke="#3f78c4" stroke-width="1.6"/><rect x="95.4" y="118.4" width="24" height="0.1" fill="url(#gw)"/><path d="M98 131.400h18.500M101 128.800l-3 2.600 3 2.600M113.500 128.800l3 2.600-3 2.600" stroke="#7d9bbb" stroke-width="1.600" fill="none"/><rect x="89.1" y="106.5" width="25.3" height="20.5" rx="1.5" fill="#fdfeff" stroke="#3f78c4" stroke-width="1.6"/><rect x="89.9" y="107.3" width="23.7" height="5" fill="url(#gw)"/><path d="M94.400 112v12M92 114.800h5M91.500 121h19.500M108 118.600l3 2.400-3 2.400" stroke="#7d9bbb" stroke-width="1.600" fill="none"/><rect x="125" y="105.500" width="1" height="22.500" fill="#8cc0f4"/><path d="M133.700 120h11.400l-5.700 6.200z" fill="#000"/><rect x="160" y="99" width="1" height="46" fill="#a0a0a0"/><rect x="161" y="99" width="1" height="46" fill="#fff"/><rect x="174" y="107" width="29.500" height="30.200" rx="2.500" fill="#fbfdff" stroke="#5b9bdc" stroke-width="2.200"/><rect x="175" y="107.300" width="27.500" height="2.500" fill="#7db4ec"/><path d="M192 113h9M192 117.500h9M192 122h9M178 127h7M178 131.500h7M196 131.500h5" stroke="#d4dce6" stroke-width="1.200" stroke-dasharray="3 1.500"/><path d="M183.700 111.500l-7 7.200h3.800v4.800h6.400v-4.800h3.800z" fill="#1fb428" stroke="#0b8414" stroke-width="1"/><path d="M191.800 134.200l-6.800-7h3.700v-5h6.200v5h3.700z" fill="#f26a3c" stroke="#cc4418" stroke-width="1"/><g stroke="#5a5a5a" stroke-width="2.400" fill="none"><circle cx="241.600" cy="122.700" r="10.300"/><path d="M241.600 107.500v30.500M226.800 122.700h30"/></g><circle cx="241.600" cy="122.700" r="1.600" fill="#c8c8c8"/><path d="M276 109q0-2.500 2.500-2.500h7q1.500 0 2.200 1.300l1.300 2.700h6.500q2 0 2 2v13h-21.500z" fill="#fbe88c" stroke="#c89a1c" stroke-width="1.300"/><path d="M277 114h19.500" stroke="#fdf6c8" stroke-width="1.500"/><path d="M283.700 128.500v2.200M283.700 132.500v2.200M283.700 136.500v2" stroke="#505050" stroke-width="1.800"/><path d="M299.800 115.800l3.400 7.800 8.200 .900-6.100 5.600 1.700 8.200-7.200-4.200-7.200 4.200 1.700-8.200-6.100-5.600 8.200-.900z" fill="#f6d648" stroke="#b88410" stroke-width="1.500" stroke-linejoin="round"/><rect x="330.300" y="109" width="29.500" height="26" rx="1.500" fill="#fcfdff" stroke="#3a76c0" stroke-width="2.400"/><rect x="331" y="110" width="5.500" height="24" fill="#4a8ad8"/><path d="M338 112.600h20.500M338 116.800h20.500M338 121h20.500M338 125h20.500" stroke="#ccd8f8" stroke-width="1.300"/><path d="M339 112.600h2.400M339 125h2.400" stroke="#f03030" stroke-width="2.200"/><path d="M339 116.800h2.400M339 121h2.400" stroke="#405040" stroke-width="2.200"/><rect x="332.800" y="111.200" width="2.400" height="2.600" fill="#202838"/><rect x="333" y="124" width="2" height="9" fill="#304870"/><rect x="382.300" y="107" width="23.600" height="26.500" fill="#f6f4ec" stroke="#b4ae98" stroke-width="1.500"/><path d="M388 110.500v16M385.500 118h5M399 109.500v10M396.500 112.500h5" stroke="#707888" stroke-width="1.500"/><path d="M404.800 131l9.800 8.600" stroke="#c89c20" stroke-width="4.200" stroke-linecap="round"/><path d="M405 130.300l9 8" stroke="#f0d870" stroke-width="1.400" stroke-linecap="round"/><circle cx="397.600" cy="123.900" r="9.600" fill="#d4e8f8" fill-opacity=".88" stroke="#8cb8e4" stroke-width="2"/><path d="M394.500 119v9.500h5.500v-9.500" fill="#b8c8d4" fill-opacity=".7"/><rect x="426" y="99" width="1" height="46" fill="#a0a0a0"/><rect x="427" y="99" width="1" height="46" fill="#fff"/><path d="M442 107h15l6 6v21h-21z" fill="#fcfcfc" stroke="#909090" stroke-width="1.600"/><path d="M457 107v6h6" fill="none" stroke="#909090" stroke-width="1.300"/><path d="M446 113h8M446 118h12M446 123h8" stroke="#b0b0b0" stroke-width="1.600"/><path d="M457.900 118h7.200v7.900h7.900v7.200h-7.900v7.900h-7.200v-7.900h-7.900v-7.200h7.900z" fill="url(#gp)" stroke="#0a8410" stroke-width="1.400" stroke-linejoin="round"/><text x="480" y="130.500" font-family="'Liberation Sans', 'Noto Sans CJK SC', sans-serif" font-size="24" fill="#000">新订单</text><defs><linearGradient id="gb" x1="0" y1="0" x2="1" y2="1"><stop offset="0" stop-color="#c89410"/><stop offset=".35" stop-color="#f4d84c"/><stop offset=".7" stop-color="#e8b828"/><stop offset="1" stop-color="#b87c10"/></linearGradient></defs><path d="M567 125.600l15.700 12.600 16.500-13.200v-3l-16.500 13z" fill="#b4781c" stroke="#9a6410" stroke-width=".800"/><path d="M578.900 107.500l20.300 17.500-16.500 13.200-15.800-12.600z" fill="url(#gb)" stroke="#a87410" stroke-width="1.200" stroke-linejoin="round"/><path d="M578.900 108.500l-11 16.800" stroke="#fbe88c" stroke-width="1.600"/><path d="M619.500 120.500q14 5 29 0l-2.500 7q-3 10.500-10.500 10.500q-6.500 0-16-17.500z" fill="#f4d858" stroke="#c8a020" stroke-width="1"/><ellipse cx="633.200" cy="117.200" rx="15.800" ry="5.400" fill="#58a8dc" stroke="#2c7cb8" stroke-width="1"/><path d="M625 116q.600-10.300 7.700-10.300t7.600 10.300q-7.600 3.200-15.300 0z" fill="#6cbcf0" stroke="#2c7cb8" stroke-width="1"/><circle cx="641.900" cy="129.400" r="8" fill="#e42c14" stroke="#b41c08" stroke-width="1"/><rect x="639.200" y="126.700" width="5.500" height="5.500" fill="#fff"/><text x="660.3" y="130.500" font-family="'Liberation Sans', 'Noto Sans CJK SC', sans-serif" font-size="23.5" fill="#000">自动交易</text><g stroke="#4a4a4a" stroke-width="2.200" fill="none"><path d="M788.500 112v27M783 134h26"/></g><path d="M788.500 109l-4 5h8zM812 134l-5-4v8z" fill="#4a4a4a"/><path d="M805.500 114.500h-4.500v12.500h-5.500" stroke="#18a018" stroke-width="2.200" fill="none"/><rect x="824.500" y="98.500" width="48" height="46" fill="#f8f8f8" stroke="#dcdcdc" stroke-width="1"/><path d="M872.500 98v47M824 144.500h49" stroke="#fff" stroke-width="1" fill="none"/><g stroke="#4a4a4a" stroke-width="2.200" fill="none"><path d="M840.300 112v27M834.800 134h26"/></g><path d="M840.300 109l-4 5h8zM863.800 134l-5-4v8z" fill="#4a4a4a"/><path d="M852.500 105v25" stroke="#109010" stroke-width="2"/><rect x="848.500" y="110" width="8.500" height="16" rx="1" fill="#30d040" stroke="#109010" stroke-width="1.400"/><g stroke="#4a4a4a" stroke-width="2.200" fill="none"><path d="M892 112v27M886.500 134h26"/></g><path d="M892 109l-4 5h8zM915.500 134l-5-4v8z" fill="#4a4a4a"/><path d="M890 128q10-18 17-9q4 5 8 6" stroke="#30a050" stroke-width="2" fill="none"/><rect x="929" y="99" width="1" height="46" fill="#a0a0a0"/><rect x="930" y="99" width="1" height="46" fill="#fff"/><path d="M961.500 126.500l11 10" stroke="#d0a828" stroke-width="5" stroke-linecap="round"/><path d="M961.500 126l11 10" stroke="#f0d870" stroke-width="2" stroke-linecap="round"/><circle cx="953.500" cy="118.500" r="10.500" fill="#d4ecfa" stroke="#3888d8" stroke-width="2.200"/><path d="M948 118.500h11" stroke="#4890c0" stroke-width="3"/><path d="M953.500 113v11" stroke="#4890c0" stroke-width="3"/><path d="M1014 126.500l11 10" stroke="#d0a828" stroke-width="5" stroke-linecap="round"/><path d="M1014 126l11 10" stroke="#f0d870" stroke-width="2" stroke-linecap="round"/><circle cx="1006" cy="118.500" r="10.500" fill="#d4ecfa" stroke="#3888d8" stroke-width="2.200"/><path d="M1000.500 118.500h11" stroke="#4890c0" stroke-width="3"/><rect x="1046" y="106" width="15.500" height="15.500" fill="#48a828"/><rect x="1048.500" y="112.500" width="11" height="6.500" fill="none" stroke="#e8f0ff" stroke-width="1.400"/><rect x="1048" y="108" width="2" height="1.500" fill="#e8f0ff"/><rect x="1062.500" y="106" width="15.500" height="15.500" fill="#1858c8"/><rect x="1065" y="112.500" width="11" height="6.500" fill="none" stroke="#e8f0ff" stroke-width="1.400"/><rect x="1064.500" y="108" width="2" height="1.500" fill="#e8f0ff"/><rect x="1046" y="122.500" width="15.500" height="15.500" fill="#1858c8"/><rect x="1048.500" y="129" width="11" height="6.500" fill="none" stroke="#e8f0ff" stroke-width="1.400"/><rect x="1048" y="124.500" width="2" height="1.500" fill="#e8f0ff"/><rect x="1062.500" y="122.500" width="15.500" height="15.500" fill="#48a828"/><rect x="1065" y="129" width="11" height="6.500" fill="none" stroke="#e8f0ff" stroke-width="1.400"/><rect x="1064.500" y="124.500" width="2" height="1.500" fill="#e8f0ff"/><rect x="1091" y="99" width="1" height="46" fill="#a0a0a0"/><rect x="1092" y="99" width="1" height="46" fill="#fff"/><rect x="1096.500" y="98.500" width="48" height="46" fill="#f8f8f8" stroke="#dcdcdc" stroke-width="1"/><path d="M1144.500 98v47M1096 144.500h49" stroke="#fff" stroke-width="1" fill="none"/><g stroke="#4a4a4a" stroke-width="2.200" fill="none"><path d="M1113 112v27M1107.500 134h26"/></g><path d="M1113 109l-4 5h8zM1136.500 134l-5-4v8z" fill="#4a4a4a"/><path d="M1122 113.500l8.500 7.500-8.500 7.500z" fill="#40d050" stroke="#109020" stroke-width="1.300"/><rect x="1149" y="98.500" width="47.500" height="46" fill="#f8f8f8" stroke="#dcdcdc" stroke-width="1"/><path d="M1196.500 98v47M1148.500 144.500h48.500" stroke="#fff" stroke-width="1" fill="none"/><g stroke="#4a4a4a" stroke-width="2.200" fill="none"><path d="M1165 112v27M1159.500 134h26"/></g><path d="M1165 109l-4 5h8zM1188.500 134l-5-4v8z" fill="#4a4a4a"/><path d="M1176.600 110v22" stroke="#2878b0" stroke-width="2.200"/><path d="M1179 120.800l6-4.500v3h4v3h-4v3z" fill="#e05010"/><rect x="1201" y="99" width="1" height="46" fill="#a0a0a0"/><rect x="1202" y="99" width="1" height="46" fill="#fff"/><path d="M1217.500 107h14l6 6v20h-20z" fill="#fcfcfc" stroke="#909090" stroke-width="1.600"/><path d="M1231.500 107v6h6" fill="none" stroke="#909090" stroke-width="1.300"/><path d="M1226 112q-3 0-3 3v10q0 3-3 3M1221 118h5" stroke="#808080" stroke-width="1.500" fill="none"/><path d="M1232.4 118h7.200v7.900h7.900v7.200h-7.900v7.900h-7.200v-7.900h-7.900v-7.200h7.900z" fill="url(#gp)" stroke="#0a8410" stroke-width="1.400" stroke-linejoin="round"/><path d="M1258 120h11.400l-5.700 6.200z" fill="#000"/><circle cx="1307" cy="121.500" r="13.600" fill="#f4f8ff" stroke="#1868d0" stroke-width="4.200"/><circle cx="1307" cy="121.500" r="15.700" fill="none" stroke="#0848a0" stroke-width="1"/><path d="M1306.500 113v9h6.500" stroke="#303030" stroke-width="2" fill="none"/><path d="M1307 109v2M1307 132v2M1295 121.500h2M1317 121.500h2" stroke="#8090a8" stroke-width="1.300"/><path d="M1335 120h11.400l-5.700 6.200z" fill="#000"/><rect x="1369.500" y="108.500" width="30.500" height="26.500" rx="1" fill="#fdfdff" stroke="#3a78c8" stroke-width="2"/><rect x="1370.500" y="109.500" width="28.500" height="4" fill="#6ea3e0"/><path d="M1370 123.500h29" stroke="#3a78c8" stroke-width="1.500"/><path d="M1373 120.500h4l3-2.500 4 1.500 4-1 3-2h4" stroke="#a83818" stroke-width="2.200" fill="none"/><path d="M1374 131l4-1.500 3 1 4-4 4 3.500 4-1" stroke="#28a028" stroke-width="2.200" fill="none"/><path d="M1411.500 120h11.400l-5.700 6.200z" fill="#000"/><path d="M2491.500 123.500l-9 9.500" stroke="#2a5fd0" stroke-width="4.600" stroke-linecap="round"/><circle cx="2497.200" cy="118" r="7.300" fill="#f4f8ff" stroke="#3a6fe0" stroke-width="2.600"/><path d="M2549.500 117.500q0-9.500 13-9.500t13 9.500q0 6.500-6 8.500l1 5-6-4q-8 1-12-3z" fill="#f6f6f8" stroke="#9a9a9a" stroke-width="1.400"/><path d="M2535 125.500q0-8 9.800-8t9.800 8q0 7.500-9.800 7.500q-2 0-3.500-.400l-4.500 4 .800-5.500q-2.600-2-2.600-5.600z" fill="#f0f0f2" stroke="#8a8a8a" stroke-width="1.400"/><rect x="0" y="199" width="556" height="1" fill="#a0a0a0"/><rect x="556" y="149" width="1" height="51" fill="#a0a0a0"/><rect x="0" y="152" width="3" height="1" fill="#b4b4b4"/><rect x="0" y="154" width="3" height="1" fill="#b4b4b4"/><rect x="0" y="156" width="3" height="1" fill="#b4b4b4"/><rect x="0" y="158" width="3" height="1" fill="#b4b4b4"/><rect x="0" y="160" width="3" height="1" fill="#b4b4b4"/><rect x="0" y="162" width="3" height="1" fill="#b4b4b4"/><rect x="0" y="164" width="3" height="1" fill="#b4b4b4"/><rect x="0" y="166" width="3" height="1" fill="#b4b4b4"/><rect x="0" y="168" width="3" height="1" fill="#b4b4b4"/><rect x="0" y="170" width="3" height="1" fill="#b4b4b4"/><rect x="0" y="172" width="3" height="1" fill="#b4b4b4"/><rect x="0" y="174" width="3" height="1" fill="#b4b4b4"/><rect x="0" y="176" width="3" height="1" fill="#b4b4b4"/><rect x="0" y="178" width="3" height="1" fill="#b4b4b4"/><rect x="0" y="180" width="3" height="1" fill="#b4b4b4"/><rect x="0" y="182" width="3" height="1" fill="#b4b4b4"/><rect x="0" y="184" width="3" height="1" fill="#b4b4b4"/><rect x="0" y="186" width="3" height="1" fill="#b4b4b4"/><rect x="0" y="188" width="3" height="1" fill="#b4b4b4"/><rect x="0" y="190" width="3" height="1" fill="#b4b4b4"/><rect x="0" y="192" width="3" height="1" fill="#b4b4b4"/><rect x="0" y="194" width="3" height="1" fill="#b4b4b4"/><rect x="0" y="196" width="3" height="1" fill="#b4b4b4"/><path d="M20.500 160v23l5.500-5 4.500 10.500 4-1.800-4.500-10.200h7.500z" fill="#3c3c3c"/><rect x="57.500" y="151" width="48" height="45.500" fill="#f8f8f8" stroke="#dcdcdc" stroke-width="1"/><path d="M105.500 150.500v46.500M57 196.500h49" stroke="#fff" stroke-width="1" fill="none"/><path d="M81.500 160v11M81.500 178.500v11M67 174.800h11M85 174.800h11" stroke="#484848" stroke-width="2"/><rect x="81" y="174.300" width="1" height="1" fill="#484848"/><rect x="110" y="151" width="1" height="46" fill="#a0a0a0"/><rect x="111" y="151" width="1" height="46" fill="#fff"/><g stroke="#484848" stroke-width="2.200" fill="none"><path d="M140 161.500v27M180 174.800h25M232.500 188.500l24.500-24.500"/></g><g stroke="#484848" stroke-width="1.800" fill="none"><path d="M281 176l21-15M283 186l25-18M287 188l17-12"/><path d="M287 169l-2 16M293 165l-2 17M299 160l-2 18M304 158l-1 14" stroke-width="1.200"/></g><text x="302.400" y="192" font-family="Liberation Sans, sans-serif" font-size="13" font-weight="bold" fill="#505050">E</text><g stroke="#505050" stroke-width="1.900" stroke-dasharray="2 1.500"><path d="M334.800 160.700h26.500M334.800 166.400h26.500M334.800 175.200h26.500M334.800 183.100h19"/></g><text x="354.700" y="192" font-family="Liberation Sans, sans-serif" font-size="13" font-weight="bold" fill="#505050">F</text><text x="393.300" y="184" font-family="Liberation Sans, sans-serif" font-size="25.200" fill="#5a5a5a" stroke="#5a5a5a" stroke-width=".800" textLength="15" lengthAdjust="spacingAndGlyphs">A</text><rect x="442.200" y="162.500" width="22.500" height="24.500" fill="none" stroke="#505050" stroke-width="1.800" stroke-dasharray="1.800 1.700"/><rect x="439.800" y="159.800" width="4.500" height="2.600" fill="#505050"/><path d="M445.500 169.200h15.800M453.400 169.200v15" stroke="#585858" stroke-width="3" fill="none"/><path d="M498.400 161.300l7 6.800h-3.600v4.500h-6.800v-4.500h-3.600zM512.100 189.200l-7.200-6.500h3.600v-4h7.200v4h3.600z" fill="#4c4c4c"/><path d="M495.200 178.400l5 3.800 9.200-11.600" stroke="#4c4c4c" stroke-width="2.400" fill="none"/><path d="M530.700 172h11.400l-5.700 6.200z" fill="#000"/><rect x="472" y="201" width="1" height="50" fill="#a0a0a0"/><rect x="0" y="204" width="3" height="1" fill="#b4b4b4"/><rect x="0" y="206" width="3" height="1" fill="#b4b4b4"/><rect x="0" y="208" width="3" height="1" fill="#b4b4b4"/><rect x="0" y="210" width="3" height="1" fill="#b4b4b4"/><rect x="0" y="212" width="3" height="1" fill="#b4b4b4"/><rect x="0" y="214" width="3" height="1" fill="#b4b4b4"/><rect x="0" y="216" width="3" height="1" fill="#b4b4b4"/><rect x="0" y="218" width="3" height="1" fill="#b4b4b4"/><rect x="0" y="220" width="3" height="1" fill="#b4b4b4"/><rect x="0" y="222" width="3" height="1" fill="#b4b4b4"/><rect x="0" y="224" width="3" height="1" fill="#b4b4b4"/><rect x="0" y="226" width="3" height="1" fill="#b4b4b4"/><rect x="0" y="228" width="3" height="1" fill="#b4b4b4"/><rect x="0" y="230" width="3" height="1" fill="#b4b4b4"/><rect x="0" y="232" width="3" height="1" fill="#b4b4b4"/><rect x="0" y="234" width="3" height="1" fill="#b4b4b4"/><rect x="0" y="236" width="3" height="1" fill="#b4b4b4"/><rect x="0" y="238" width="3" height="1" fill="#b4b4b4"/><rect x="0" y="240" width="3" height="1" fill="#b4b4b4"/><rect x="0" y="242" width="3" height="1" fill="#b4b4b4"/><rect x="0" y="244" width="3" height="1" fill="#b4b4b4"/><rect x="0" y="246" width="3" height="1" fill="#b4b4b4"/><rect x="0" y="248" width="3" height="1" fill="#b4b4b4"/><rect x="265.500" y="202.500" width="48" height="46" fill="#f8f8f8" stroke="#dcdcdc" stroke-width="1"/><path d="M313.500 202v47M265 248.500h49" stroke="#fff" stroke-width="1" fill="none"/><text x="16" y="233.800" font-family="Liberation Sans, sans-serif" font-size="19.500" fill="#505050" textLength="25.2" lengthAdjust="spacingAndGlyphs">M1</text><text x="67.7" y="233.800" font-family="Liberation Sans, sans-serif" font-size="19.500" fill="#505050" textLength="25.3" lengthAdjust="spacingAndGlyphs">M5</text><text x="116" y="233.800" font-family="Liberation Sans, sans-serif" font-size="19.500" fill="#505050" textLength="34.5" lengthAdjust="spacingAndGlyphs">M15</text><text x="168.200" y="233.800" font-family="Liberation Sans, sans-serif" font-size="19.500" fill="#505050" textLength="35.3" lengthAdjust="spacingAndGlyphs">M30</text><text x="226.300" y="233.800" font-family="Liberation Sans, sans-serif" font-size="19.500" fill="#505050" textLength="23" lengthAdjust="spacingAndGlyphs">H1</text><text x="276.400" y="233.800" font-family="Liberation Sans, sans-serif" font-size="19.500" fill="#505050" textLength="24.6" lengthAdjust="spacingAndGlyphs">H4</text><text x="330.500" y="233.800" font-family="Liberation Sans, sans-serif" font-size="19.500" fill="#505050" textLength="23.5" lengthAdjust="spacingAndGlyphs">D1</text><text x="381.500" y="233.800" font-family="Liberation Sans, sans-serif" font-size="19.500" fill="#505050" textLength="28.2" lengthAdjust="spacingAndGlyphs">W1</text><text x="431" y="233.800" font-family="Liberation Sans, sans-serif" font-size="19.500" fill="#505050" textLength="28.8" lengthAdjust="spacingAndGlyphs">MN</text><rect x="0" y="250" width="2584" height="1" fill="#fafafa"/><rect x="0" y="251" width="2584" height="1" fill="#a0a0a0"/><rect x="0" y="252" width="2584" height="1" fill="#696969"/></svg></body></html>
